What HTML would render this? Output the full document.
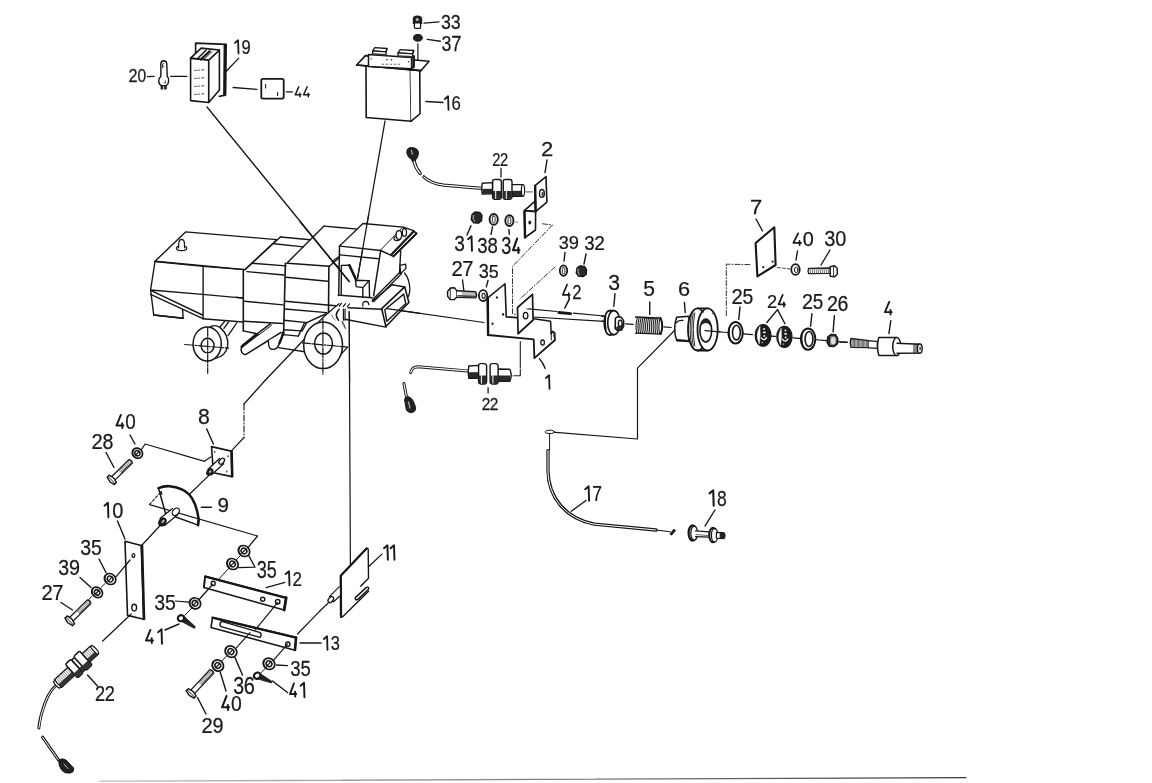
<!DOCTYPE html>
<html><head><meta charset="utf-8"><style>
html,body{margin:0;padding:0;background:#fff;}
svg{display:block;}
text{font-family:"Liberation Sans",sans-serif;fill:#1a1a1a;stroke:#1a1a1a;stroke-width:0.25px;}
.t{opacity:0.999}
</style></head><body>
<svg width="1152" height="783" viewBox="0 0 1152 783" stroke-linecap="round">
<rect width="1152" height="783" fill="#fff"/>
<g opacity="0.999">
<line x1="147.4" y1="76.6" x2="154" y2="76.4" stroke="#161616" stroke-width="1.4"/>
<text transform="translate(128.59,82.2) scale(0.877,1)" font-size="18.57">2</text>
<text transform="translate(137.46,82.2) scale(0.840,1)" font-size="18.57">0</text>
<rect x="160.6" y="84.6" width="6.2" height="4.9" rx="0.6" fill="#222"/>
<line x1="163.7" y1="86" x2="163.7" y2="89.6" stroke="#fff" stroke-width="0.9"/>
<path d="M160.9,76.4 L160.8,64 Q161,60.7 163.8,60.7 Q166.6,60.7 166.8,64 L167.2,76 Q168.8,78 168.6,81 Q168.4,84.6 166,85.4 L161.6,85.6 Q159,84.6 158.7,81.4 Q158.6,78 160.9,76.4 Z" fill="#fff" stroke="#161616" stroke-width="1.4" stroke-linejoin="round" stroke-linecap="round"/>
<path d="M162.2,64.4 L163.6,63.6 M162.2,66.6 L163.8,66.2 M162.4,64.2 L162.6,68" fill="none" stroke="#333" stroke-width="0.9" stroke-linejoin="round" stroke-linecap="round"/>
<path d="M165.2,80.4 L165.6,83.4 M164,82.6 L165.6,82.4" fill="none" stroke="#555" stroke-width="0.8" stroke-linejoin="round" stroke-linecap="round"/>
<line x1="170.6" y1="76.3" x2="186.9" y2="76.3" stroke="#161616" stroke-width="1.3"/>
<path d="M195.6,57 L195.6,43.1 L226.2,44.4 L225.6,95 L219.4,96.4" fill="none" stroke="#161616" stroke-width="1.6" stroke-linejoin="round" stroke-linecap="round"/>
<line x1="224.9" y1="45" x2="224.4" y2="95" stroke="#161616" stroke-width="2.6"/>
<polygon points="190.6,58.1 208.75,60 208.75,102.5 190.6,100.6" fill="#fff" stroke="#161616" stroke-width="1.6" stroke-linejoin="round"/>
<polygon points="208.75,60 219.4,50 219.4,90 208.75,102.5" fill="#fff" stroke="#161616" stroke-width="1.6" stroke-linejoin="round"/>
<polygon points="190.6,58.1 201.25,48.1 219.4,50 208.75,60" fill="#fff" stroke="#161616" stroke-width="1.6" stroke-linejoin="round"/>
<line x1="197.3" y1="58.8" x2="206.2" y2="50" stroke="#161616" stroke-width="1.5"/>
<line x1="200.6" y1="59.6" x2="209.6" y2="51.2" stroke="#161616" stroke-width="2.2"/>
<line x1="203.6" y1="59.6" x2="212.2" y2="51.4" stroke="#161616" stroke-width="1.0"/>
<line x1="194.5" y1="70.5" x2="196.5" y2="70.2" stroke="#444" stroke-width="0.9"/>
<line x1="198" y1="70.3" x2="199.5" y2="70.1" stroke="#444" stroke-width="0.9"/>
<line x1="201.5" y1="70" x2="204" y2="69.7" stroke="#444" stroke-width="0.9"/>
<line x1="194.5" y1="78.5" x2="196.5" y2="78.2" stroke="#444" stroke-width="0.9"/>
<line x1="198" y1="78.3" x2="199.5" y2="78.1" stroke="#444" stroke-width="0.9"/>
<line x1="201.5" y1="78" x2="204" y2="77.7" stroke="#444" stroke-width="0.9"/>
<line x1="194.5" y1="86.5" x2="196.5" y2="86.2" stroke="#444" stroke-width="0.9"/>
<line x1="198" y1="86.3" x2="199.5" y2="86.1" stroke="#444" stroke-width="0.9"/>
<line x1="201.5" y1="86" x2="204" y2="85.7" stroke="#444" stroke-width="0.9"/>
<line x1="194.5" y1="94.5" x2="196.5" y2="94.2" stroke="#444" stroke-width="0.9"/>
<line x1="198" y1="94.3" x2="199.5" y2="94.1" stroke="#444" stroke-width="0.9"/>
<line x1="201.5" y1="94" x2="204" y2="93.7" stroke="#444" stroke-width="0.9"/>
<path d="M234.93,42.89 L238.09,40.27 L238.5,53.48" fill="none" stroke="#1a1a1a" stroke-width="1.79" stroke-linecap="round" stroke-linejoin="round"/>
<text transform="translate(241.56,53.75) scale(0.843,1)" font-size="19.64">9</text>
<line x1="238.75" y1="58.1" x2="226.25" y2="71.25" stroke="#161616" stroke-width="1.3"/>
<line x1="233.1" y1="87.5" x2="256.9" y2="89.4" stroke="#161616" stroke-width="1.3"/>
<rect x="261.3" y="78.8" width="22.4" height="19.8" rx="1.6" fill="#fff" stroke="#161616" stroke-width="1.8"/>
<line x1="265.6" y1="84.5" x2="265.6" y2="88" stroke="#161616" stroke-width="1.1"/>
<line x1="277.6" y1="92.5" x2="277.6" y2="95.5" stroke="#161616" stroke-width="1.1"/>
<line x1="286.25" y1="91.9" x2="292.5" y2="91.9" stroke="#161616" stroke-width="1.3"/>
<path d="M298.78,86.75 L295.25,94.86 L300.89,94.86 M299.78,93.13 L299.92,96.75" fill="none" stroke="#1a1a1a" stroke-width="1.50" stroke-linecap="round" stroke-linejoin="round"/>
<path d="M307.15,86.75 L303.61,94.86 L309.25,94.86 M308.14,93.13 L308.29,96.75" fill="none" stroke="#1a1a1a" stroke-width="1.50" stroke-linecap="round" stroke-linejoin="round"/>
<line x1="207" y1="107" x2="349.2" y2="281.5" stroke="#161616" stroke-width="1.3"/>
<path d="M413.4,23.4 L413.4,19.2 Q413.4,16.2 417.4,16.2 Q421.6,16.2 421.6,19.2 L421.6,23.4 Z" fill="#222" stroke="#161616" stroke-width="1.2" stroke-linejoin="round" stroke-linecap="round"/>
<ellipse cx="417.2" cy="19.5" rx="1.5" ry="1.6" fill="#bbb"/>
<path d="M414.4,23.4 L414.4,27.2 Q414.4,28.4 416,28.4 L419.2,28.4 Q420.6,28.4 420.6,27.2 L420.6,23.4" fill="#fff" stroke="#161616" stroke-width="1.3" stroke-linejoin="round" stroke-linecap="round"/>
<line x1="424" y1="23.1" x2="439" y2="21.9" stroke="#161616" stroke-width="1.3"/>
<text transform="translate(440.89,29.4) scale(0.864,1)" font-size="20.57">3</text>
<text transform="translate(450.68,29.4) scale(0.864,1)" font-size="20.57">3</text>
<ellipse cx="417.9" cy="37.8" rx="4.4" ry="3.4" fill="#222" stroke="#161616" stroke-width="1"/>
<line x1="427.25" y1="39.4" x2="440.4" y2="41.25" stroke="#161616" stroke-width="1.3"/>
<text transform="translate(441.54,50.6) scale(0.830,1)" font-size="21.43">3</text>
<text transform="translate(451.13,50.6) scale(0.857,1)" font-size="21.43">7</text>
<line x1="417.9" y1="43.75" x2="417.9" y2="65" stroke="#161616" stroke-width="1.2"/>
<polyline points="366,66.3 366.2,117.5 411.2,121.2 410.4,70" fill="#fff" stroke="#161616" stroke-width="1.6" stroke-linejoin="round"/>
<polyline points="410.4,70 419.75,67.6 420,113.75 411.2,121.2" fill="#fff" stroke="#161616" stroke-width="1.6" stroke-linejoin="round"/>
<polygon points="356.6,65 365.4,55.6 429.1,61.25 421,70.6" fill="#fff" stroke="#161616" stroke-width="1.6" stroke-linejoin="round"/>
<line x1="356.6" y1="65" x2="421" y2="70.6" stroke="#161616" stroke-width="1.6"/>
<polygon points="368.5,54.6 411.6,57.4 411.6,68.8 368.5,66.4" fill="#fff" stroke="#161616" stroke-width="1.5" stroke-linejoin="round"/>
<polygon points="411.6,57.4 414.2,55.8 414.2,66.6 411.6,68.8" fill="#fff" stroke="#161616" stroke-width="1.3" stroke-linejoin="round"/>
<line x1="413.4" y1="56.6" x2="413.4" y2="67.4" stroke="#161616" stroke-width="2.2"/>
<ellipse cx="371.2" cy="58.8" rx="0.6" ry="0.7" fill="#333"/>
<ellipse cx="408.6" cy="61.8" rx="0.7" ry="0.8" fill="#333"/>
<polygon points="372.6,50.8 374.8,47.6 387.2,48.5 386,51.8" fill="#fff" stroke="#161616" stroke-width="1.3" stroke-linejoin="round"/>
<polygon points="372.6,50.8 386,51.8 386,55.2 372.6,54.4" fill="#fff" stroke="#161616" stroke-width="1.3" stroke-linejoin="round"/>
<line x1="373" y1="54" x2="385.6" y2="54.9" stroke="#333" stroke-width="1.6"/>
<line x1="386" y1="51.8" x2="387.2" y2="48.5" stroke="#161616" stroke-width="1.2"/>
<polygon points="398,52.8 400.2,49.6 413.8,50.5 412.6,53.8" fill="#fff" stroke="#161616" stroke-width="1.3" stroke-linejoin="round"/>
<polygon points="398,52.8 412.6,53.8 412.6,57.2 398,56.4" fill="#fff" stroke="#161616" stroke-width="1.3" stroke-linejoin="round"/>
<line x1="398.4" y1="56" x2="412.2" y2="56.9" stroke="#333" stroke-width="1.6"/>
<line x1="412.6" y1="53.8" x2="413.8" y2="50.5" stroke="#161616" stroke-width="1.2"/>
<ellipse cx="387" cy="59.6" rx="0.8" ry="0.9" fill="#333"/>
<ellipse cx="391.5" cy="59.8" rx="0.8" ry="0.9" fill="#333"/>
<line x1="382" y1="64.2" x2="383.5" y2="64.3" stroke="#555" stroke-width="0.9"/>
<line x1="386" y1="64.2" x2="387.5" y2="64.3" stroke="#555" stroke-width="0.9"/>
<line x1="390" y1="64.2" x2="391.5" y2="64.3" stroke="#555" stroke-width="0.9"/>
<line x1="394" y1="64.2" x2="395.5" y2="64.3" stroke="#555" stroke-width="0.9"/>
<line x1="398" y1="64.2" x2="399.5" y2="64.3" stroke="#555" stroke-width="0.9"/>
<line x1="426" y1="101.5" x2="443" y2="102.5" stroke="#161616" stroke-width="1.3"/>
<path d="M444.85,98.94 L448.07,96.28 L448.49,109.72" fill="none" stroke="#1a1a1a" stroke-width="1.82" stroke-linecap="round" stroke-linejoin="round"/>
<text transform="translate(451.46,110) scale(0.837,1)" font-size="20.00">6</text>
<line x1="385" y1="121" x2="357.6" y2="278" stroke="#161616" stroke-width="1.3"/>
<path d="M407,153 Q406,147.5 411.5,147.6 Q418.5,147.8 418.5,153.5 Q418,158 415.5,160 L414.8,162 L412.6,162 L411.5,159.5 Q407.5,157.5 407,153 Z" fill="#222" stroke="#161616" stroke-width="1.0" stroke-linejoin="round" stroke-linecap="round"/>
<line x1="411.5" y1="150.5" x2="412.3" y2="154" stroke="#ccc" stroke-width="1.1"/>
<path d="M414.2,161.5 Q415.5,168 420.2,173.4" fill="none" stroke="#161616" stroke-width="3.4" stroke-linejoin="round" stroke-linecap="round"/>
<path d="M414.2,161.5 Q415.5,168 420.2,173.4" fill="none" stroke="#fff" stroke-width="1.3" stroke-linejoin="round" stroke-linecap="round"/>
<path d="M423.8,176.8 Q430,183 443.8,185.2 L481.5,188.4" fill="none" stroke="#161616" stroke-width="3.2" stroke-linejoin="round" stroke-linecap="round"/>
<path d="M423.8,176.8 Q430,183 443.8,185.2 L481.5,188.4" fill="none" stroke="#fff" stroke-width="1.2" stroke-linejoin="round" stroke-linecap="round"/>
<path d="M482.2,183.2 L492.5,182.6 L492.5,193.8 L482.2,194 Q481.2,188.6 482.2,183.2 Z" fill="#fff" stroke="#161616" stroke-width="1.4" stroke-linejoin="round" stroke-linecap="round"/>
<rect x="482.3" y="188.8" width="10" height="5" fill="#2a2a2a"/>
<path d="M508.7,184.6 L522.6,184.6 Q525,190.3 522.6,196.2 L508.7,196.2 Z" fill="#fff" stroke="#161616" stroke-width="1.4" stroke-linejoin="round" stroke-linecap="round"/>
<rect x="509" y="190.8" width="13.5" height="5.2" fill="#2a2a2a"/>
<ellipse cx="523" cy="190.4" rx="1.6" ry="5.8" fill="#fff" stroke="#161616" stroke-width="1.2"/>
<path d="M492.7,181 Q492.5,179.5 494.9,179.5 L499.4,179.5 Q501.4,179.7 501.4,182 L501.4,197.5 Q501.2,199.3 499.2,199.3 L494.9,199.3 Q492.59999999999997,199 492.59999999999997,197 Z" fill="#fff" stroke="#161616" stroke-width="1.4" stroke-linejoin="round" stroke-linecap="round"/>
<rect x="492.9" y="191" width="8.3" height="7.8" fill="#2a2a2a"/>
<line x1="495.7" y1="180.5" x2="495.7" y2="198.5" stroke="#fff" stroke-width="1.0"/>
<path d="M503.3,181 Q503.1,179.5 505.5,179.5 L510.0,179.5 Q512.0,179.7 512.0,182 L512.0,197.5 Q511.8,199.3 509.8,199.3 L505.5,199.3 Q503.2,199 503.2,197 Z" fill="#fff" stroke="#161616" stroke-width="1.4" stroke-linejoin="round" stroke-linecap="round"/>
<rect x="503.5" y="191" width="8.3" height="7.8" fill="#2a2a2a"/>
<line x1="506.3" y1="180.5" x2="506.3" y2="198.5" stroke="#fff" stroke-width="1.0"/>
<line x1="526" y1="191.9" x2="532.5" y2="191.9" stroke="#555" stroke-width="1.0"/>
<text transform="translate(492.27,166.25) scale(0.821,1)" font-size="17.86">2</text>
<text transform="translate(500.09,166.25) scale(0.821,1)" font-size="17.86">2</text>
<line x1="501" y1="168.75" x2="501" y2="176.9" stroke="#161616" stroke-width="1.3"/>
<polygon points="524.4,210.6 535.6,200.6 535.6,211.6" fill="#fff" stroke="#161616" stroke-width="1.5" stroke-linejoin="round"/>
<polygon points="535,185.6 546,176.6 546.9,202.2 535.6,211.6" fill="#fff" stroke="#161616" stroke-width="1.6" stroke-linejoin="round"/>
<line x1="535.2" y1="186" x2="535.6" y2="211.6" stroke="#161616" stroke-width="2.4"/>
<ellipse cx="541.9" cy="193.4" rx="2.4" ry="3.9" fill="none" stroke="#161616" stroke-width="1.4"/>
<ellipse cx="542.6" cy="194" rx="1.1" ry="2.2" fill="#444"/>
<polygon points="524.4,210.6 535.6,211.6 535.5,230 525,237.5 524.4,210.6" fill="#fff" stroke="#161616" stroke-width="1.6" stroke-linejoin="round"/>
<line x1="524.5" y1="212" x2="525" y2="237.5" stroke="#161616" stroke-width="2.4"/>
<ellipse cx="529.8" cy="222.6" rx="1.5" ry="2" fill="#222"/>
<text transform="translate(540.9,156) scale(1.140,1)" font-size="19.29">2</text>
<line x1="547" y1="160" x2="545" y2="172.5" stroke="#161616" stroke-width="1.4"/>
<polygon points="472,214.5 475,212 479.8,212.4 482,215.5 481.6,220.8 478.4,223.2 473.8,222.8 471.2,219.5" fill="#2a2a2a" stroke="#161616" stroke-width="1.3" stroke-linejoin="round"/>
<path d="M473.2,215.4 Q472.2,219 474.6,221.4" fill="none" stroke="#bbb" stroke-width="1.0" stroke-linejoin="round" stroke-linecap="round"/>
<ellipse cx="493.7" cy="219.4" rx="4.1" ry="5.4" fill="#fff" stroke="#161616" stroke-width="1.9"/>
<rect x="492.3" y="216.1" width="2.8" height="6.6" rx="1" fill="none" stroke="#333" stroke-width="1"/>
<ellipse cx="509.4" cy="220.6" rx="4.1" ry="5.4" fill="#fff" stroke="#161616" stroke-width="1.9"/>
<rect x="508" y="217.3" width="2.8" height="6.6" rx="1" fill="none" stroke="#333" stroke-width="1"/>
<line x1="516" y1="222" x2="517.5" y2="222.2" stroke="#777" stroke-width="1.0"/>
<text transform="translate(454.24,251) scale(0.892,1)" font-size="21.43">3</text>
<path d="M468.07,239.15 L471.52,236.3 L471.97,250.7" fill="none" stroke="#1a1a1a" stroke-width="1.95" stroke-linecap="round" stroke-linejoin="round"/>
<text transform="translate(477.26,253) scale(0.840,1)" font-size="22.14">3</text>
<text transform="translate(487.42,253) scale(0.840,1)" font-size="22.14">8</text>
<text transform="translate(501.28,254) scale(0.769,1)" font-size="23.57">3</text>
<path d="M517.09,238.57 L513.06,250.21 L519.43,250.21 M518.29,247.73 L518.46,252.93" fill="none" stroke="#1a1a1a" stroke-width="2.15" stroke-linecap="round" stroke-linejoin="round"/>
<line x1="471" y1="225.8" x2="467" y2="235" stroke="#161616" stroke-width="1.4"/>
<line x1="492.5" y1="226.6" x2="491" y2="234.4" stroke="#161616" stroke-width="1.4"/>
<line x1="508.9" y1="229.5" x2="509.3" y2="234.2" stroke="#161616" stroke-width="1.4"/>
<polyline points="542.5,223.8 552.5,225 512.5,266.3 512.5,313.8 516.3,314.4" fill="none" stroke="#333" stroke-width="1.0" stroke-linejoin="round" stroke-dasharray="5,2,1,2"/>
<ellipse cx="563.5" cy="270.6" rx="3.7" ry="5.2" fill="#fff" stroke="#161616" stroke-width="1.8"/>
<rect x="562.3" y="267.6" width="2.6" height="6" rx="1" fill="none" stroke="#333" stroke-width="1"/>
<polygon points="577,268 580,265.8 584.5,266.3 586.6,269.5 586.2,274.5 583,276.6 578.5,276.2 576.2,273" fill="#2a2a2a" stroke="#161616" stroke-width="1.3" stroke-linejoin="round"/>
<path d="M578,269 Q577.2,272 579.2,274.8" fill="none" stroke="#bbb" stroke-width="1.0" stroke-linejoin="round" stroke-linecap="round"/>
<text transform="translate(558.78,249) scale(0.976,1)" font-size="18.57">3</text>
<text transform="translate(568.66,249) scale(0.986,1)" font-size="18.57">9</text>
<text transform="translate(584.26,250) scale(0.930,1)" font-size="20.00">3</text>
<text transform="translate(594.29,250) scale(0.961,1)" font-size="20.00">2</text>
<line x1="565" y1="252.5" x2="564" y2="261" stroke="#161616" stroke-width="1.4"/>
<line x1="586" y1="254" x2="584" y2="264" stroke="#161616" stroke-width="1.4"/>
<polyline points="555,267 520,299" fill="none" stroke="#333" stroke-width="1.0" stroke-linejoin="round" stroke-dasharray="5,2,1,2"/>
<polygon points="447.6,291.5 450.4,288 454.6,287.8 457,291 457,297 454.4,299.6 450.2,299.6 447.6,296.2" fill="#fff" stroke="#161616" stroke-width="1.4" stroke-linejoin="round"/>
<line x1="450.3" y1="288.4" x2="450.2" y2="299.2" stroke="#161616" stroke-width="0.9"/>
<path d="M457,290.8 L475.6,291.8 Q477.6,294.8 475.6,297.9 L457,297.4" fill="#fff" stroke="#161616" stroke-width="1.4" stroke-linejoin="round" stroke-linecap="round"/>
<line x1="463" y1="292" x2="463" y2="297.2" stroke="#555" stroke-width="0.8"/>
<line x1="465" y1="292" x2="465" y2="297.2" stroke="#555" stroke-width="0.8"/>
<line x1="467" y1="292" x2="467" y2="297.2" stroke="#555" stroke-width="0.8"/>
<line x1="469" y1="292" x2="469" y2="297.2" stroke="#555" stroke-width="0.8"/>
<line x1="471" y1="292" x2="471" y2="297.2" stroke="#555" stroke-width="0.8"/>
<line x1="473" y1="292" x2="473" y2="297.2" stroke="#555" stroke-width="0.8"/>
<line x1="475" y1="292" x2="475" y2="297.2" stroke="#555" stroke-width="0.8"/>
<line x1="458" y1="295.8" x2="475" y2="296.6" stroke="#444" stroke-width="1.6"/>
<ellipse cx="483.1" cy="295.6" rx="4.2" ry="5.5" fill="#fff" stroke="#161616" stroke-width="1.8"/>
<ellipse cx="483.6" cy="295.8" rx="1.6" ry="2.6" fill="none" stroke="#161616" stroke-width="1.1"/>
<text transform="translate(451.49,276) scale(0.944,1)" font-size="21.43">2</text>
<text transform="translate(462.28,276) scale(0.944,1)" font-size="21.43">7</text>
<text transform="translate(478.78,277.5) scale(0.939,1)" font-size="19.29">3</text>
<text transform="translate(488.77,277.5) scale(0.930,1)" font-size="19.29">5</text>
<line x1="462.5" y1="280" x2="463.75" y2="290" stroke="#161616" stroke-width="1.4"/>
<line x1="488" y1="280.5" x2="486.3" y2="286.9" stroke="#161616" stroke-width="1.4"/>
<polyline points="487.5,298.1 505,283.75 506.25,316.9 517,317.6" fill="none" stroke="#161616" stroke-width="1.6" stroke-linejoin="round"/>
<polyline points="487.5,298.1 488.1,335 533.75,339.4 534.4,358.1 555,340 554.6,333 552.5,331.5 551.2,333.5" fill="none" stroke="#161616" stroke-width="1.8" stroke-linejoin="round"/>
<line x1="487.8" y1="298.5" x2="488.1" y2="335" stroke="#161616" stroke-width="2.4"/>
<polyline points="533.9,318.8 550.6,321.25 551.2,333.5" fill="none" stroke="#161616" stroke-width="1.5" stroke-linejoin="round"/>
<line x1="551.2" y1="333.5" x2="551.3" y2="340" stroke="#161616" stroke-width="1.0"/>
<ellipse cx="496.9" cy="297.5" rx="1.1" ry="1.3" fill="#222"/>
<ellipse cx="503.1" cy="314.4" rx="1.1" ry="1.3" fill="#222"/>
<ellipse cx="492.5" cy="323.75" rx="1.1" ry="1.3" fill="#222"/>
<ellipse cx="542.6" cy="342.6" rx="1.8" ry="2.6" fill="none" stroke="#161616" stroke-width="1.3"/>
<ellipse cx="554" cy="335.5" rx="0.8" ry="1.6" fill="#333"/>
<polygon points="517.5,307.5 532.5,294.4 533.1,320 518.1,333.75" fill="#fff" stroke="#161616" stroke-width="1.7" stroke-linejoin="round"/>
<ellipse cx="525.6" cy="315.6" rx="2.3" ry="3.3" fill="none" stroke="#161616" stroke-width="1.3"/>
<line x1="526.5" y1="309" x2="528.5" y2="309.3" stroke="#555" stroke-width="1.0"/>
<line x1="529" y1="308.9" x2="556.6" y2="311.5" stroke="#161616" stroke-width="1.2"/>
<line x1="573.2" y1="313.1" x2="604" y2="316" stroke="#161616" stroke-width="1.2"/>
<line x1="533.5" y1="317" x2="604" y2="321.3" stroke="#161616" stroke-width="1.2"/>
<line x1="558.75" y1="312.5" x2="570.6" y2="313.6" stroke="#161616" stroke-width="2.8"/>
<text transform="translate(572.16,298.75) scale(0.815,1)" font-size="20.50">2</text>
<path d="M567.1,284.6 L562.8,294.9 L569.8,294.9 M568.7,293 L569.2,299.4 L564.8,308" fill="none" stroke="#161616" stroke-width="1.6" stroke-linejoin="round" stroke-linecap="round"/>
<line x1="387" y1="308.7" x2="484" y2="322.5" stroke="#161616" stroke-width="1.2"/>
<polyline points="520.3,341.6 520.3,375.8 514,375.8" fill="none" stroke="#222" stroke-width="1.1" stroke-linejoin="round" stroke-dasharray="26,1.5,40"/>
<line x1="511.2" y1="375.8" x2="512.4" y2="375.8" stroke="#555" stroke-width="1.0"/>
<path d="M539.4,358.75 Q543,362.5 545.2,368.5" fill="none" stroke="#161616" stroke-width="1.3" stroke-linejoin="round" stroke-linecap="round"/>
<path d="M545.87,377.94 L549.09,375.28 L549.51,388.72" fill="none" stroke="#1a1a1a" stroke-width="1.82" stroke-linecap="round" stroke-linejoin="round"/>
<path d="M410.7,372.5 Q412,367 418,366.8 L467.5,370.9" fill="none" stroke="#161616" stroke-width="3.0" stroke-linejoin="round" stroke-linecap="round"/>
<path d="M410.7,372.5 Q412,367 418,366.8 L467.5,370.9" fill="none" stroke="#fff" stroke-width="1.1" stroke-linejoin="round" stroke-linecap="round"/>
<path d="M403.9,383.5 L406.5,397" fill="none" stroke="#161616" stroke-width="3.0" stroke-linejoin="round" stroke-linecap="round"/>
<path d="M403.9,383.5 L406.5,397" fill="none" stroke="#fff" stroke-width="1.1" stroke-linejoin="round" stroke-linecap="round"/>
<path d="M404.6,399.5 Q405,396.5 408,396.6 Q413,397.5 415.6,407.5 Q416,411.5 412.5,412.6 Q408.5,413 406.6,410.5 Z" fill="#222" stroke="#161616" stroke-width="1.0" stroke-linejoin="round" stroke-linecap="round"/>
<line x1="408.5" y1="402" x2="410" y2="408" stroke="#bbb" stroke-width="1.1"/>
<path d="M468.8,366 L478.7,365.4 L478.7,378.3 L468.8,378.3 Q467.6,372 468.8,366 Z" fill="#fff" stroke="#161616" stroke-width="1.4" stroke-linejoin="round" stroke-linecap="round"/>
<rect x="469" y="372.2" width="9.5" height="6" fill="#2a2a2a"/>
<path d="M497.6,369 L509.8,369.2 Q512.6,375 509.8,381.4 L497.6,381.2 Z" fill="#fff" stroke="#161616" stroke-width="1.4" stroke-linejoin="round" stroke-linecap="round"/>
<rect x="498" y="375.5" width="12" height="5.6" fill="#2a2a2a"/>
<path d="M478.59999999999997,365.6 Q478.59999999999997,363.6 480.79999999999995,363.6 L484.4,363.6 Q486.59999999999997,363.8 486.59999999999997,366 L486.59999999999997,381.8 Q486.4,384 484.4,384 L480.79999999999995,384 Q478.59999999999997,383.8 478.59999999999997,381.6 Z" fill="#fff" stroke="#161616" stroke-width="1.4" stroke-linejoin="round" stroke-linecap="round"/>
<rect x="478.79999999999995" y="375.5" width="7.6" height="8.2" fill="#2a2a2a"/>
<line x1="481.4" y1="364.5" x2="481.4" y2="383" stroke="#fff" stroke-width="1.0"/>
<path d="M490.09999999999997,365.6 Q490.09999999999997,363.6 492.29999999999995,363.6 L495.9,363.6 Q498.09999999999997,363.8 498.09999999999997,366 L498.09999999999997,381.8 Q497.9,384 495.9,384 L492.29999999999995,384 Q490.09999999999997,383.8 490.09999999999997,381.6 Z" fill="#fff" stroke="#161616" stroke-width="1.4" stroke-linejoin="round" stroke-linecap="round"/>
<rect x="490.29999999999995" y="375.5" width="7.6" height="8.2" fill="#2a2a2a"/>
<line x1="492.9" y1="364.5" x2="492.9" y2="383" stroke="#fff" stroke-width="1.0"/>
<text transform="translate(481.63,409.7) scale(0.890,1)" font-size="17.29">2</text>
<text transform="translate(489.83,409.7) scale(0.890,1)" font-size="17.29">2</text>
<line x1="488.1" y1="387.7" x2="488.1" y2="393" stroke="#161616" stroke-width="1.3"/>
<line x1="604" y1="316" x2="601.9" y2="316.2" stroke="#161616" stroke-width="1.2"/>
<ellipse cx="609.6" cy="322.8" rx="5.4" ry="12.2" fill="#fff" stroke="#161616" stroke-width="1.6"/>
<path d="M609.6,310.6 L613.8,310.6 M609.6,335 L613.8,334.8" fill="none" stroke="#161616" stroke-width="1.5" stroke-linejoin="round" stroke-linecap="round"/>
<path d="M605.6,316 Q604.8,322.8 606,330" fill="none" stroke="#161616" stroke-width="1.3" stroke-linejoin="round" stroke-linecap="round"/>
<ellipse cx="613.9" cy="322.7" rx="6.2" ry="12.1" fill="#fff" stroke="#161616" stroke-width="1.6"/>
<polygon points="615.4,318.2 617.6,316.8 621.4,317.4 623.6,320.6 623.6,326.4 621.4,330 617.6,330.6 615.2,328.6" fill="#fff" stroke="#161616" stroke-width="1.6" stroke-linejoin="round"/>
<path d="M616,328.6 L617.8,330.4 L621.4,330 L623.4,326.6 L623.4,323.4 Q621,327.4 617.4,326.8 Z" fill="#333" stroke="#161616" stroke-width="0.8" stroke-linejoin="round" stroke-linecap="round"/>
<ellipse cx="620.2" cy="323.4" rx="1.9" ry="3.1" fill="#fff" stroke="#161616" stroke-width="1.4"/>
<line x1="602" y1="316.2" x2="604.4" y2="316.4" stroke="#161616" stroke-width="1.2"/>
<line x1="602" y1="321.2" x2="604.4" y2="321.4" stroke="#161616" stroke-width="1.2"/>
<text transform="translate(608.15,290) scale(0.993,1)" font-size="21.43">3</text>
<line x1="615" y1="293.8" x2="613.8" y2="306.2" stroke="#161616" stroke-width="1.4"/>
<line x1="625.6" y1="323.8" x2="633.1" y2="324.4" stroke="#161616" stroke-width="1.2"/>
<path d="M635.5,317 L661,318.2 Q664,326 661,334.2 L635.5,333.2" fill="#fff" stroke="#161616" stroke-width="1.3" stroke-linejoin="round" stroke-linecap="round"/>
<path d="M637.4,317.4 Q635.0,325.5 636.8000000000001,333.4" fill="none" stroke="#222" stroke-width="1.1" stroke-linejoin="round" stroke-linecap="round"/>
<path d="M639.3,317.4 Q636.9,325.5 638.7,333.4" fill="none" stroke="#222" stroke-width="1.1" stroke-linejoin="round" stroke-linecap="round"/>
<path d="M641.1999999999999,317.4 Q638.8,325.5 640.6,333.4" fill="none" stroke="#222" stroke-width="1.1" stroke-linejoin="round" stroke-linecap="round"/>
<path d="M643.1,317.4 Q640.7,325.5 642.5000000000001,333.4" fill="none" stroke="#222" stroke-width="1.1" stroke-linejoin="round" stroke-linecap="round"/>
<path d="M645.0,317.4 Q642.6,325.5 644.4000000000001,333.4" fill="none" stroke="#222" stroke-width="1.1" stroke-linejoin="round" stroke-linecap="round"/>
<path d="M646.9,317.4 Q644.5,325.5 646.3000000000001,333.4" fill="none" stroke="#222" stroke-width="1.1" stroke-linejoin="round" stroke-linecap="round"/>
<path d="M648.8,317.4 Q646.4,325.5 648.2,333.4" fill="none" stroke="#222" stroke-width="1.1" stroke-linejoin="round" stroke-linecap="round"/>
<path d="M650.6999999999999,317.4 Q648.3,325.5 650.1,333.4" fill="none" stroke="#222" stroke-width="1.1" stroke-linejoin="round" stroke-linecap="round"/>
<path d="M652.6,317.4 Q650.2,325.5 652.0000000000001,333.4" fill="none" stroke="#222" stroke-width="1.1" stroke-linejoin="round" stroke-linecap="round"/>
<path d="M654.5,317.4 Q652.1,325.5 653.9000000000001,333.4" fill="none" stroke="#222" stroke-width="1.1" stroke-linejoin="round" stroke-linecap="round"/>
<path d="M656.4,317.4 Q654.0,325.5 655.8000000000001,333.4" fill="none" stroke="#222" stroke-width="1.1" stroke-linejoin="round" stroke-linecap="round"/>
<path d="M658.3,317.4 Q655.9,325.5 657.7,333.4" fill="none" stroke="#222" stroke-width="1.1" stroke-linejoin="round" stroke-linecap="round"/>
<path d="M660.1999999999999,317.4 Q657.8,325.5 659.6,333.4" fill="none" stroke="#222" stroke-width="1.1" stroke-linejoin="round" stroke-linecap="round"/>
<path d="M660.6,318.4 Q663.6,326 660.6,334" fill="none" stroke="#161616" stroke-width="1.6" stroke-linejoin="round" stroke-linecap="round"/>
<line x1="643" y1="318" x2="657" y2="318.9" stroke="#161616" stroke-width="0.8"/>
<line x1="663.75" y1="326.9" x2="671.25" y2="327.5" stroke="#161616" stroke-width="1.2"/>
<text transform="translate(643.16,296) scale(0.982,1)" font-size="21.43">5</text>
<line x1="649.75" y1="301.9" x2="649.75" y2="314.4" stroke="#161616" stroke-width="1.4"/>
<path d="M676.6,317.2 L689,316.2 L689.2,341 L676.8,340.8 Q672.6,329 676.6,317.2 Z" fill="#fff" stroke="#161616" stroke-width="1.5" stroke-linejoin="round" stroke-linecap="round"/>
<line x1="677" y1="340" x2="688.6" y2="341.2" stroke="#161616" stroke-width="2.2"/>
<path d="M676.2,323 Q678,320 683,320.4" fill="none" stroke="#161616" stroke-width="1.2" stroke-linejoin="round" stroke-linecap="round"/>
<path d="M697.5,308.2 L707.5,308.2 L707.5,350.6 L697.5,350.6 Z" fill="#fff" stroke-linejoin="round" stroke-linecap="round"/>
<ellipse cx="697.6" cy="329.4" rx="9.6" ry="21.1" fill="#fff" stroke="#161616" stroke-width="1.8"/>
<line x1="697.6" y1="308.3" x2="707.5" y2="308.3" stroke="#161616" stroke-width="1.5"/>
<line x1="697.6" y1="350.5" x2="707.5" y2="350.5" stroke="#161616" stroke-width="2.2"/>
<ellipse cx="707.6" cy="329.4" rx="10.1" ry="21.1" fill="#fff" stroke="#161616" stroke-width="1.8"/>
<path d="M691.6,313 Q688.6,329.4 691.6,346" fill="none" stroke="#161616" stroke-width="0.9" stroke-linejoin="round" stroke-linecap="round"/>
<path d="M693.2,313 Q690.2,329.4 693.2,346" fill="none" stroke="#161616" stroke-width="0.9" stroke-linejoin="round" stroke-linecap="round"/>
<path d="M694.8,313 Q691.8,329.4 694.8,346" fill="none" stroke="#161616" stroke-width="0.9" stroke-linejoin="round" stroke-linecap="round"/>
<ellipse cx="705.8" cy="330.6" rx="5.9" ry="11.5" fill="#fff" stroke="#161616" stroke-width="1.6"/>
<path d="M700.2,327 Q701,319.5 705.8,319.2 Q710.8,319.5 711.4,327 Q708,322.5 705.5,323 Q702,323.5 700.2,327 Z" fill="#222" stroke-linejoin="round" stroke-linecap="round"/>
<ellipse cx="703.3" cy="312" rx="0.8" ry="0.8" fill="#333"/>
<ellipse cx="712.7" cy="313.5" rx="0.7" ry="0.7" fill="#444"/>
<line x1="705" y1="330.6" x2="727.5" y2="332.5" stroke="#161616" stroke-width="1.2"/>
<text transform="translate(677.91,296) scale(1.127,1)" font-size="19.29">6</text>
<line x1="684.4" y1="302.5" x2="685.25" y2="312.5" stroke="#161616" stroke-width="1.4"/>
<polyline points="675,330 637.5,368.1 637.5,439 552.5,432.2" fill="none" stroke="#161616" stroke-width="1.2" stroke-linejoin="round"/>
<ellipse cx="549.7" cy="431.9" rx="4.6" ry="1.7" fill="#fff" stroke="#161616" stroke-width="1.0"/>
<line x1="549.6" y1="433.6" x2="549.6" y2="450" stroke="#161616" stroke-width="1.0"/>
<polyline points="726.3,315.6 726.3,264.2 751,264.6" fill="none" stroke="#333" stroke-width="1.0" stroke-linejoin="round" stroke-dasharray="5,2,1,2"/>
<polygon points="755.6,243 774.3,227.3 775.6,265 757.4,276.4" fill="#fff" stroke="#161616" stroke-width="2.1" stroke-linejoin="round"/>
<ellipse cx="763.3" cy="267.2" rx="1.1" ry="1.1" fill="#222"/>
<ellipse cx="772.6" cy="261.6" rx="1.1" ry="1.1" fill="#222"/>
<line x1="777.5" y1="267.5" x2="790" y2="269" stroke="#444" stroke-width="1.0" stroke-dasharray="3,2"/>
<text transform="translate(749.9,214) scale(1.099,1)" font-size="20.00">7</text>
<line x1="756" y1="219" x2="762.5" y2="231" stroke="#161616" stroke-width="1.4"/>
<ellipse cx="795.5" cy="269.5" rx="4.2" ry="5.4" fill="#fff" stroke="#161616" stroke-width="1.8"/>
<ellipse cx="796.2" cy="269.8" rx="1.8" ry="2.8" fill="none" stroke="#161616" stroke-width="1.0"/>
<path d="M798.16,233.38 L793.38,242.9 L801.06,242.9 M799.48,240.87 L799.67,245.12" fill="none" stroke="#1a1a1a" stroke-width="1.76" stroke-linecap="round" stroke-linejoin="round"/>
<text transform="translate(802.77,246) scale(1.030,1)" font-size="19.29">0</text>
<line x1="797.5" y1="251" x2="796" y2="260" stroke="#161616" stroke-width="1.4"/>
<path d="M808.6,268.4 L830.4,268 L830.4,273.4 L808.6,273.6 Q807.4,271 808.6,268.4 Z" fill="#fff" stroke="#161616" stroke-width="1.3" stroke-linejoin="round" stroke-linecap="round"/>
<line x1="810" y1="268.6" x2="810.6" y2="273.2" stroke="#555" stroke-width="0.8"/>
<line x1="812" y1="268.6" x2="812.6" y2="273.2" stroke="#555" stroke-width="0.8"/>
<line x1="814" y1="268.6" x2="814.6" y2="273.2" stroke="#555" stroke-width="0.8"/>
<line x1="816" y1="268.6" x2="816.6" y2="273.2" stroke="#555" stroke-width="0.8"/>
<line x1="818" y1="268.6" x2="818.6" y2="273.2" stroke="#555" stroke-width="0.8"/>
<line x1="820" y1="268.6" x2="820.6" y2="273.2" stroke="#555" stroke-width="0.8"/>
<line x1="822" y1="268.6" x2="822.6" y2="273.2" stroke="#555" stroke-width="0.8"/>
<line x1="824" y1="268.6" x2="824.6" y2="273.2" stroke="#555" stroke-width="0.8"/>
<line x1="826" y1="268.6" x2="826.6" y2="273.2" stroke="#555" stroke-width="0.8"/>
<line x1="828" y1="268.6" x2="828.6" y2="273.2" stroke="#555" stroke-width="0.8"/>
<polygon points="830.2,266.6 834.6,265.8 837.2,268.2 837.2,274.4 834.6,276.8 830.2,276.2" fill="#fff" stroke="#161616" stroke-width="1.4" stroke-linejoin="round"/>
<line x1="833.6" y1="266.2" x2="833.6" y2="276.4" stroke="#161616" stroke-width="0.9"/>
<text transform="translate(824.2,246) scale(0.937,1)" font-size="21.43">3</text>
<text transform="translate(835.27,246) scale(0.927,1)" font-size="21.43">0</text>
<line x1="830" y1="250" x2="821" y2="265" stroke="#161616" stroke-width="1.4"/>
<line x1="715" y1="331.49" x2="720" y2="331.9" stroke="#161616" stroke-width="1.2"/>
<line x1="743.5" y1="333.83" x2="752.5" y2="334.56" stroke="#161616" stroke-width="1.2"/>
<line x1="771" y1="336.08" x2="775.5" y2="336.45" stroke="#161616" stroke-width="1.2"/>
<line x1="793" y1="337.89" x2="799.5" y2="338.42" stroke="#161616" stroke-width="1.2"/>
<line x1="816" y1="339.77" x2="826.5" y2="340.63" stroke="#161616" stroke-width="1.2"/>
<line x1="837.5" y1="341.53" x2="847.2" y2="342.33" stroke="#161616" stroke-width="1.2"/>
<ellipse cx="735.6" cy="332.8" rx="7.2" ry="10.7" fill="#fff" stroke="#161616" stroke-width="2.0"/>
<ellipse cx="736.4" cy="332.6" rx="3.9" ry="7.3" fill="#fff" stroke="#161616" stroke-width="1.6"/>
<path d="M729.6,326 Q728.4,333 730.2,339.8" fill="none" stroke="#161616" stroke-width="1.2" stroke-linejoin="round" stroke-linecap="round"/>
<ellipse cx="763.1" cy="335.4" rx="7.9" ry="10.8" fill="#1e1e1e" stroke="#161616" stroke-width="1.2"/>
<path d="M759.90,326.60 Q755.00,335.40 759.30,343.80 Q760.70,335.40 759.90,326.60 Z" fill="#fff" stroke="#fff" stroke-width="0.5" stroke-linejoin="round" stroke-linecap="round"/>
<path d="M761.30,337.80 Q763.90,341.60 766.50,337.60" fill="none" stroke="#fff" stroke-width="1.3" stroke-linejoin="round" stroke-linecap="round"/>
<ellipse cx="764.1" cy="329" rx="0.9" ry="0.9" fill="#fff"/>
<ellipse cx="764.3" cy="332.4" rx="1.6" ry="0.8" fill="#fff"/>
<ellipse cx="764.3" cy="336" rx="0.9" ry="1" fill="#fff"/>
<ellipse cx="762.1" cy="342.6" rx="0.8" ry="0.6" fill="#ddd"/>
<ellipse cx="784.4" cy="336.9" rx="7.6" ry="10.5" fill="#1e1e1e" stroke="#161616" stroke-width="1.2"/>
<path d="M781.20,328.40 Q776.60,336.90 780.60,345.00 Q782.00,336.90 781.20,328.40 Z" fill="#fff" stroke="#fff" stroke-width="0.5" stroke-linejoin="round" stroke-linecap="round"/>
<path d="M782.60,339.30 Q785.20,343.10 787.80,339.10" fill="none" stroke="#fff" stroke-width="1.3" stroke-linejoin="round" stroke-linecap="round"/>
<ellipse cx="785.4" cy="330.5" rx="0.9" ry="0.9" fill="#fff"/>
<ellipse cx="785.6" cy="333.9" rx="1.6" ry="0.8" fill="#fff"/>
<ellipse cx="785.6" cy="337.5" rx="0.9" ry="1" fill="#fff"/>
<ellipse cx="783.4" cy="344.1" rx="0.8" ry="0.6" fill="#ddd"/>
<ellipse cx="808.1" cy="339.1" rx="7.2" ry="10.7" fill="#fff" stroke="#161616" stroke-width="2.0"/>
<ellipse cx="809" cy="339" rx="3.9" ry="7.5" fill="#fff" stroke="#161616" stroke-width="1.6"/>
<path d="M802.2,332.5 Q801,339 802.8,346" fill="none" stroke="#161616" stroke-width="1.2" stroke-linejoin="round" stroke-linecap="round"/>
<polygon points="828,337 831,334.6 835.6,335 837.6,338.6 837.2,343.8 834,346.4 829.4,346 827.2,342.4" fill="#777" stroke="#161616" stroke-width="1.8" stroke-linejoin="round"/>
<ellipse cx="833.2" cy="340.7" rx="2.4" ry="3.6" fill="#ddd"/>
<line x1="829.2" y1="337.6" x2="829" y2="344.6" stroke="#161616" stroke-width="1.4"/>
<text transform="translate(731.49,304) scale(0.944,1)" font-size="21.43">2</text>
<text transform="translate(742.52,304) scale(0.904,1)" font-size="21.43">5</text>
<line x1="740" y1="306.9" x2="738.75" y2="319.4" stroke="#161616" stroke-width="1.4"/>
<text transform="translate(767.09,307.5) scale(0.944,1)" font-size="19.29">2</text>
<path d="M782.69,294.88 L778.59,304.39 L785.12,304.39 M783.85,302.37 L784.01,306.62" fill="none" stroke="#1a1a1a" stroke-width="1.76" stroke-linecap="round" stroke-linejoin="round"/>
<polyline points="766.9,322.5 777.5,309.6 785,323.75" fill="none" stroke="#161616" stroke-width="1.4" stroke-linejoin="round"/>
<text transform="translate(802.01,309) scale(0.921,1)" font-size="21.43">2</text>
<text transform="translate(812.77,309) scale(0.882,1)" font-size="21.43">5</text>
<line x1="811.9" y1="313.75" x2="810.6" y2="326.25" stroke="#161616" stroke-width="1.4"/>
<text transform="translate(827.01,311) scale(0.921,1)" font-size="21.43">2</text>
<text transform="translate(837.55,311) scale(0.911,1)" font-size="21.43">6</text>
<line x1="834.4" y1="315.6" x2="833.1" y2="331.9" stroke="#161616" stroke-width="1.4"/>
<path d="M851,338.5 L868.7,340.6 L868.7,347.6 L851,347.4 Q849.6,343 851,338.5 Z" fill="#fff" stroke="#161616" stroke-width="1.4" stroke-linejoin="round" stroke-linecap="round"/>
<line x1="852" y1="338.9" x2="852" y2="347.2" stroke="#333" stroke-width="0.75"/>
<line x1="853.3" y1="339.06" x2="853.3" y2="347.23" stroke="#333" stroke-width="0.75"/>
<line x1="854.6" y1="339.22" x2="854.6" y2="347.26" stroke="#333" stroke-width="0.75"/>
<line x1="855.9" y1="339.38" x2="855.9" y2="347.29" stroke="#333" stroke-width="0.75"/>
<line x1="857.2" y1="339.54" x2="857.2" y2="347.32" stroke="#333" stroke-width="0.75"/>
<line x1="858.5" y1="339.7" x2="858.5" y2="347.35" stroke="#333" stroke-width="0.75"/>
<line x1="859.8" y1="339.86" x2="859.8" y2="347.38" stroke="#333" stroke-width="0.75"/>
<line x1="861.1" y1="340.02" x2="861.1" y2="347.41" stroke="#333" stroke-width="0.75"/>
<line x1="862.4" y1="340.18" x2="862.4" y2="347.44" stroke="#333" stroke-width="0.75"/>
<line x1="863.7" y1="340.34" x2="863.7" y2="347.47" stroke="#333" stroke-width="0.75"/>
<line x1="865" y1="340.5" x2="865" y2="347.5" stroke="#333" stroke-width="0.75"/>
<line x1="866.3" y1="340.66" x2="866.3" y2="347.53" stroke="#333" stroke-width="0.75"/>
<line x1="867.6" y1="340.82" x2="867.6" y2="347.56" stroke="#333" stroke-width="0.75"/>
<path d="M868.7,340.8 L877.4,341.4 L877.4,348.4 L868.7,347.8" fill="#fff" stroke="#161616" stroke-width="1.3" stroke-linejoin="round" stroke-linecap="round"/>
<path d="M878.8,337.4 L896.8,337.6 L896.8,355.6 L878.8,355.4 Q876.2,346.5 878.8,337.4 Z" fill="#fff" stroke="#161616" stroke-width="1.5" stroke-linejoin="round" stroke-linecap="round"/>
<ellipse cx="896.8" cy="346.6" rx="4.1" ry="9" fill="#fff" stroke="#161616" stroke-width="1.5"/>
<path d="M897,343.2 L919.6,344.2 L919.6,353 L897,353.2" fill="#fff" stroke="#161616" stroke-width="1.4" stroke-linejoin="round" stroke-linecap="round"/>
<ellipse cx="919.8" cy="348.6" rx="2.4" ry="4.6" fill="#fff" stroke="#161616" stroke-width="1.4"/>
<line x1="914" y1="343.8" x2="914" y2="353" stroke="#161616" stroke-width="1.0"/>
<line x1="916" y1="344" x2="916" y2="353" stroke="#161616" stroke-width="1.0"/>
<ellipse cx="920.2" cy="348.6" rx="1" ry="2" fill="#555"/>
<line x1="840" y1="342.2" x2="847.2" y2="342.2" stroke="#161616" stroke-width="1.2"/>
<path d="M889.22,301.94 L884.94,312.09 L891.76,312.09 M890.44,309.93 L890.61,314.46" fill="none" stroke="#1a1a1a" stroke-width="1.87" stroke-linecap="round" stroke-linejoin="round"/>
<line x1="890.8" y1="320.6" x2="888.9" y2="333.6" stroke="#161616" stroke-width="1.4"/>
<path d="M548,450.6 L548,471 C548.4,498 566,518.6 594.4,524.2 L656,530" fill="none" stroke="#161616" stroke-width="3.3" stroke-linejoin="round" stroke-linecap="round"/>
<path d="M548,450.6 L548,471 C548.4,498 566,518.6 594.4,524.2 L656,530" fill="none" stroke="#fff" stroke-width="1.0" stroke-linejoin="round" stroke-linecap="round"/>
<line x1="656" y1="530" x2="670" y2="531.8" stroke="#161616" stroke-width="1.1"/>
<path d="M670.2,533.8 L673.8,529.6 L675.2,530.6 L671.6,534.8 Z" fill="#222" stroke="#161616" stroke-width="1.2" stroke-linejoin="round" stroke-linecap="round"/>
<path d="M585.19,489.15 L588.64,486.3 L589.09,500.7" fill="none" stroke="#1a1a1a" stroke-width="1.95" stroke-linecap="round" stroke-linejoin="round"/>
<text transform="translate(592.17,501) scale(0.816,1)" font-size="21.43">7</text>
<line x1="586" y1="500.5" x2="571.3" y2="511.3" stroke="#161616" stroke-width="1.4"/>
<ellipse cx="692.6" cy="533" rx="4" ry="7.6" fill="#fff" stroke="#161616" stroke-width="2.2"/>
<ellipse cx="694.2" cy="533.2" rx="3.4" ry="7" fill="#fff" stroke="#161616" stroke-width="1.3"/>
<path d="M695.5,530.8 L710.5,532 L710.5,537.2 L695.5,536.6" fill="#fff" stroke="#161616" stroke-width="1.3" stroke-linejoin="round" stroke-linecap="round"/>
<line x1="696" y1="534.6" x2="710" y2="535.6" stroke="#555" stroke-width="0.9"/>
<ellipse cx="713" cy="535" rx="3.8" ry="7.3" fill="#fff" stroke="#161616" stroke-width="2.0"/>
<ellipse cx="714.6" cy="535.2" rx="3.2" ry="6.7" fill="#fff" stroke="#161616" stroke-width="1.3"/>
<path d="M716.4,532.4 L721,532.6 L721,538.4 L716.4,538.2 Z" fill="#fff" stroke="#161616" stroke-width="1.2" stroke-linejoin="round" stroke-linecap="round"/>
<path d="M720.6,532.4 L724.4,532.8 Q725.8,535.6 724.4,538.6 L720.6,538.6 Z" fill="#222" stroke="#161616" stroke-width="1.0" stroke-linejoin="round" stroke-linecap="round"/>
<path d="M709.53,493.36 L713.21,490.32 L713.69,505.68" fill="none" stroke="#1a1a1a" stroke-width="2.08" stroke-linecap="round" stroke-linejoin="round"/>
<text transform="translate(717,506) scale(0.764,1)" font-size="22.86">8</text>
<line x1="715" y1="510" x2="705" y2="526" stroke="#161616" stroke-width="1.4"/>
<polyline points="265.5,380 244,404" fill="none" stroke="#161616" stroke-width="1.2" stroke-linejoin="round"/>
<line x1="244" y1="404" x2="244" y2="437.5" stroke="#161616" stroke-width="1.1" stroke-dasharray="6,2,1,2"/>
<line x1="244" y1="437.5" x2="231.6" y2="450.6" stroke="#161616" stroke-width="1.2"/>
<text transform="translate(198.04,424) scale(0.993,1)" font-size="21.43">8</text>
<line x1="206.6" y1="428.8" x2="213.4" y2="444" stroke="#161616" stroke-width="1.4"/>
<polygon points="211.5,446.6 231.3,451.1 232,476.6 213.4,472.8" fill="#fff" stroke="#161616" stroke-width="1.6" stroke-linejoin="round"/>
<line x1="231.6" y1="451.2" x2="232.2" y2="476.4" stroke="#161616" stroke-width="2.6"/>
<ellipse cx="214.7" cy="451.9" rx="0.8" ry="0.9" fill="#333"/>
<ellipse cx="228.1" cy="456.2" rx="0.8" ry="0.9" fill="#333"/>
<ellipse cx="226.8" cy="471.5" rx="0.8" ry="0.9" fill="#333"/>
<path d="M219.6,458.6 L208,469 L211.6,474.6 L223.6,464 Z" fill="#fff" stroke-linejoin="round" stroke-linecap="round"/>
<line x1="219.6" y1="458.6" x2="208" y2="469.2" stroke="#161616" stroke-width="1.3"/>
<line x1="223.6" y1="463.8" x2="211.6" y2="474.8" stroke="#161616" stroke-width="1.3"/>
<ellipse cx="221.7" cy="461.2" rx="2.2" ry="3.4" fill="#fff" stroke="#161616" stroke-width="1.3" transform="rotate(40 221.7 461.2)"/>
<ellipse cx="209.8" cy="472" rx="2.3" ry="3.4" fill="#222" stroke="#161616" stroke-width="1.6" transform="rotate(40 209.8 472)"/>
<ellipse cx="210.2" cy="471.6" rx="0.9" ry="1.5" fill="#bbb" transform="rotate(40 210.2 471.6)"/>
<polyline points="210.9,456.8 204.5,461.3 145.1,444 141.5,449.5" fill="none" stroke="#161616" stroke-width="1.2" stroke-linejoin="round"/>
<path d="M120.89,414.98 L116.47,425.55 L123.5,425.55 M122.14,423.3 L122.32,428.02" fill="none" stroke="#1a1a1a" stroke-width="1.95" stroke-linecap="round" stroke-linejoin="round"/>
<text transform="translate(125.27,429) scale(0.882,1)" font-size="21.43">0</text>
<line x1="130" y1="435" x2="135" y2="444" stroke="#161616" stroke-width="1.4"/>
<ellipse cx="137.4" cy="453.2" rx="5.4" ry="4.8" fill="#fff" stroke="#161616" stroke-width="1.7" transform="rotate(38 137.4 453.2)"/>
<ellipse cx="137.4" cy="453.2" rx="2.7" ry="2.4" fill="none" stroke="#161616" stroke-width="1.5" transform="rotate(38 137.4 453.2)"/>
<line x1="135.56" y1="455.17" x2="139.24" y2="451.23" stroke="#161616" stroke-width="1.2"/>
<path d="M132.54,453.20 A5.40,4.80 0 0 0 137.40,457.76" fill="none" stroke="#1a1a1a" stroke-width="1.2" transform="rotate(38 137.40 453.20)"/>
<text transform="translate(91.49,449) scale(0.944,1)" font-size="21.43">2</text>
<text transform="translate(102.41,449) scale(0.914,1)" font-size="21.43">8</text>
<line x1="106" y1="452.5" x2="114" y2="467.5" stroke="#161616" stroke-width="1.4"/>
<g transform="translate(110.60,481.00) rotate(-44.45)">
<path d="M2.97,-2.4 L28.22,-2.4 Q30.02,0 28.22,2.4 L2.97,2.4 Z" fill="#fff" stroke="#161616" stroke-width="1.3" stroke-linejoin="round" stroke-linecap="round"/>
<line x1="13.24" y1="-2" x2="14.04" y2="2" stroke="#555" stroke-width="0.7"/>
<line x1="14.84" y1="-2" x2="15.64" y2="2" stroke="#555" stroke-width="0.7"/>
<line x1="16.44" y1="-2" x2="17.24" y2="2" stroke="#555" stroke-width="0.7"/>
<line x1="18.04" y1="-2" x2="18.84" y2="2" stroke="#555" stroke-width="0.7"/>
<line x1="19.64" y1="-2" x2="20.44" y2="2" stroke="#555" stroke-width="0.7"/>
<line x1="21.24" y1="-2" x2="22.04" y2="2" stroke="#555" stroke-width="0.7"/>
<line x1="22.84" y1="-2" x2="23.64" y2="2" stroke="#555" stroke-width="0.7"/>
<line x1="24.44" y1="-2" x2="25.24" y2="2" stroke="#555" stroke-width="0.7"/>
<line x1="26.04" y1="-2" x2="26.84" y2="2" stroke="#555" stroke-width="0.7"/>
<line x1="27.64" y1="-2" x2="28.44" y2="2" stroke="#555" stroke-width="0.7"/>
<line x1="13.24" y1="1.8" x2="27.92" y2="1.8" stroke="#444" stroke-width="1.1"/>
<polygon points="0.13,-5.13 3.11,-5.13 4.29,0 3.11,5.13 0.13,5.13 -1.05,0" fill="#fff" stroke="#161616" stroke-width="1.4" stroke-linejoin="round"/>
<line x1="1.35" y1="-4.86" x2="1.35" y2="4.86" stroke="#161616" stroke-width="0.9"/>
</g>
<line x1="210.2" y1="474.1" x2="189.2" y2="494.5" stroke="#161616" stroke-width="1.2"/>
<path d="M158.5,488.1 Q164,485.8 169.4,486.2 Q183,487.6 189.2,494.5 Q196.2,502 198.7,519.4 L198.1,525.1" fill="none" stroke="#161616" stroke-width="2.6" stroke-linejoin="round" stroke-linecap="round"/>
<line x1="158.5" y1="488.2" x2="165.5" y2="513.2" stroke="#161616" stroke-width="1.5"/>
<line x1="165.5" y1="513.2" x2="198.1" y2="525.1" stroke="#161616" stroke-width="1.5"/>
<line x1="198.1" y1="525.1" x2="198.6" y2="519.4" stroke="#161616" stroke-width="1.5"/>
<polyline points="160.4,492.6 149.3,504.6" fill="none" stroke="#161616" stroke-width="1.1" stroke-linejoin="round" stroke-dasharray="2.5,2"/>
<line x1="161" y1="491.5" x2="161.8" y2="494" stroke="#161616" stroke-width="1.4"/>
<line x1="149.6" y1="504.7" x2="257.5" y2="536" stroke="#161616" stroke-width="1.2"/>
<path d="M172.5,508.6 L160,518.4 L164.6,525.4 L177.6,515 Z" fill="#fff" stroke-linejoin="round" stroke-linecap="round"/>
<line x1="172.5" y1="508.6" x2="160" y2="518.6" stroke="#161616" stroke-width="1.3"/>
<line x1="177.6" y1="514.8" x2="164.6" y2="525.6" stroke="#161616" stroke-width="1.3"/>
<ellipse cx="175.8" cy="511.8" rx="3" ry="4.2" fill="#fff" stroke="#161616" stroke-width="1.3" transform="rotate(40 175.8 511.8)"/>
<ellipse cx="162.4" cy="522" rx="3" ry="4.2" fill="#222" stroke="#161616" stroke-width="1.6" transform="rotate(40 162.4 522)"/>
<ellipse cx="163" cy="521.4" rx="1.1" ry="2" fill="#bbb" transform="rotate(40 163 521.4)"/>
<line x1="161.1" y1="524.5" x2="142.5" y2="544.5" stroke="#161616" stroke-width="1.2"/>
<line x1="201.3" y1="507.3" x2="211.5" y2="507.3" stroke="#161616" stroke-width="1.4"/>
<text transform="translate(217.57,512.4) scale(0.983,1)" font-size="21.00">9</text>
<path d="M104.49,505.65 L107.94,502.8 L108.39,517.2" fill="none" stroke="#1a1a1a" stroke-width="1.95" stroke-linecap="round" stroke-linejoin="round"/>
<text transform="translate(112.2,517.5) scale(0.933,1)" font-size="21.43">0</text>
<line x1="117.5" y1="521" x2="125" y2="539" stroke="#161616" stroke-width="1.4"/>
<polygon points="125,541.2 141.2,545.4 143.8,619.2 127.5,615.4" fill="#fff" stroke="#161616" stroke-width="1.6" stroke-linejoin="round"/>
<line x1="142" y1="545.6" x2="144" y2="619" stroke="#161616" stroke-width="2.6"/>
<ellipse cx="133.4" cy="555.6" rx="1.4" ry="1.9" fill="none" stroke="#161616" stroke-width="1.3"/>
<ellipse cx="134.2" cy="607.6" rx="2.4" ry="3.4" fill="none" stroke="#161616" stroke-width="1.4"/>
<line x1="130" y1="560" x2="114.5" y2="578.6" stroke="#161616" stroke-width="1.2"/>
<ellipse cx="110.1" cy="579" rx="6" ry="5.2" fill="#fff" stroke="#161616" stroke-width="1.7" transform="rotate(38 110.1 579)"/>
<ellipse cx="110.1" cy="579" rx="3" ry="2.6" fill="none" stroke="#161616" stroke-width="1.5" transform="rotate(38 110.1 579)"/>
<line x1="108.05" y1="581.19" x2="112.15" y2="576.81" stroke="#161616" stroke-width="1.2"/>
<path d="M104.70,579.00 A6.00,5.20 0 0 0 110.10,583.94" fill="none" stroke="#1a1a1a" stroke-width="1.2" transform="rotate(38 110.10 579.00)"/>
<ellipse cx="97.1" cy="592.4" rx="5.8" ry="4.8" fill="#fff" stroke="#161616" stroke-width="1.7" transform="rotate(38 97.1 592.4)"/>
<ellipse cx="97.1" cy="592.4" rx="2.9" ry="2.4" fill="none" stroke="#161616" stroke-width="1.5" transform="rotate(38 97.1 592.4)"/>
<line x1="95.12" y1="594.52" x2="99.08" y2="590.28" stroke="#161616" stroke-width="1.2"/>
<path d="M91.88,592.40 A5.80,4.80 0 0 0 97.10,596.96" fill="none" stroke="#1a1a1a" stroke-width="1.2" transform="rotate(38 97.10 592.40)"/>
<line x1="101" y1="587.5" x2="105" y2="583.6" stroke="#161616" stroke-width="1.0"/>
<line x1="91.5" y1="596.5" x2="88.5" y2="600" stroke="#161616" stroke-width="1.0"/>
<text transform="translate(80.22,555) scale(0.914,1)" font-size="21.43">3</text>
<text transform="translate(91.02,555) scale(0.904,1)" font-size="21.43">5</text>
<line x1="99" y1="559" x2="106" y2="572.5" stroke="#161616" stroke-width="1.4"/>
<text transform="translate(58.22,575) scale(0.857,1)" font-size="22.86">3</text>
<text transform="translate(68.9,575) scale(0.866,1)" font-size="22.86">9</text>
<line x1="80" y1="577.5" x2="91" y2="587.5" stroke="#161616" stroke-width="1.4"/>
<text transform="translate(41.49,600) scale(0.885,1)" font-size="22.86">2</text>
<text transform="translate(52.28,600) scale(0.885,1)" font-size="22.86">7</text>
<line x1="61" y1="602.5" x2="72.5" y2="610" stroke="#161616" stroke-width="1.4"/>
<g transform="translate(68.60,622.00) rotate(-44.73)">
<path d="M3.08,-2.5 L28.92,-2.5 Q30.72,0 28.92,2.5 L3.08,2.5 Z" fill="#fff" stroke="#161616" stroke-width="1.3" stroke-linejoin="round" stroke-linecap="round"/>
<line x1="13.56" y1="-2.1" x2="14.36" y2="2.1" stroke="#555" stroke-width="0.7"/>
<line x1="15.16" y1="-2.1" x2="15.96" y2="2.1" stroke="#555" stroke-width="0.7"/>
<line x1="16.76" y1="-2.1" x2="17.56" y2="2.1" stroke="#555" stroke-width="0.7"/>
<line x1="18.36" y1="-2.1" x2="19.16" y2="2.1" stroke="#555" stroke-width="0.7"/>
<line x1="19.96" y1="-2.1" x2="20.76" y2="2.1" stroke="#555" stroke-width="0.7"/>
<line x1="21.56" y1="-2.1" x2="22.36" y2="2.1" stroke="#555" stroke-width="0.7"/>
<line x1="23.16" y1="-2.1" x2="23.96" y2="2.1" stroke="#555" stroke-width="0.7"/>
<line x1="24.76" y1="-2.1" x2="25.56" y2="2.1" stroke="#555" stroke-width="0.7"/>
<line x1="26.36" y1="-2.1" x2="27.16" y2="2.1" stroke="#555" stroke-width="0.7"/>
<line x1="27.96" y1="-2.1" x2="28.76" y2="2.1" stroke="#555" stroke-width="0.7"/>
<line x1="13.56" y1="1.9" x2="28.62" y2="1.9" stroke="#444" stroke-width="1.1"/>
<polygon points="0.14,-5.32 3.22,-5.32 4.45,0 3.22,5.32 0.14,5.32 -1.09,0" fill="#fff" stroke="#161616" stroke-width="1.4" stroke-linejoin="round"/>
<line x1="1.4" y1="-5.04" x2="1.4" y2="5.04" stroke="#161616" stroke-width="0.9"/>
</g>
<line x1="131.2" y1="614" x2="102.5" y2="641.2" stroke="#161616" stroke-width="1.2"/>
<path d="M57.4,684.4 Q50,690 45.4,702 Q40,716 38.8,728" fill="none" stroke="#161616" stroke-width="3.0" stroke-linejoin="round" stroke-linecap="round"/>
<path d="M57.4,684.4 Q50,690 45.4,702 Q40,716 38.8,728" fill="none" stroke="#fff" stroke-width="1.0" stroke-linejoin="round" stroke-linecap="round"/>
<path d="M42.6,737.2 Q50,748 58.8,760.4" fill="none" stroke="#161616" stroke-width="3.0" stroke-linejoin="round" stroke-linecap="round"/>
<path d="M42.6,737.2 Q50,748 58.8,760.4" fill="none" stroke="#fff" stroke-width="1.0" stroke-linejoin="round" stroke-linecap="round"/>
<path d="M59,760 Q62,757.6 66,760 L73.6,768 Q74.4,772.4 70,773 Q64.6,773.6 61.6,770 Q58,765 59,760 Z" fill="#222" stroke="#161616" stroke-width="1.0" stroke-linejoin="round" stroke-linecap="round"/>
<line x1="64" y1="764" x2="68" y2="768.6" stroke="#bbb" stroke-width="1.0"/>
<g transform="translate(76.65,666.4) rotate(-42.5)">
<path d="M-25.4,-5.2 L-7,-5.2 L-7,5.2 L-25.4,5.2 Q-26.8,0 -25.4,-5.2 Z" fill="#fff" stroke="#161616" stroke-width="1.4" stroke-linejoin="round" stroke-linecap="round"/>
<rect x="-25" y="0.8" width="18" height="4.2" fill="#333"/>
<line x1="-23" y1="-4.6" x2="-23" y2="0.8" stroke="#666" stroke-width="0.7"/>
<line x1="-21" y1="-4.6" x2="-21" y2="0.8" stroke="#666" stroke-width="0.7"/>
<line x1="-19" y1="-4.6" x2="-19" y2="0.8" stroke="#666" stroke-width="0.7"/>
<line x1="-17" y1="-4.6" x2="-17" y2="0.8" stroke="#666" stroke-width="0.7"/>
<line x1="-15" y1="-4.6" x2="-15" y2="0.8" stroke="#666" stroke-width="0.7"/>
<line x1="-13" y1="-4.6" x2="-13" y2="0.8" stroke="#666" stroke-width="0.7"/>
<line x1="-11" y1="-4.6" x2="-11" y2="0.8" stroke="#666" stroke-width="0.7"/>
<line x1="-9" y1="-4.6" x2="-9" y2="0.8" stroke="#666" stroke-width="0.7"/>
<path d="M-27.6,-4.4 Q-29,0 -27.6,4.4 L-25.2,4.6 Q-26.4,0 -25.2,-4.6 Z" fill="#fff" stroke="#161616" stroke-width="1.2" stroke-linejoin="round" stroke-linecap="round"/>
<path d="M-7,-7.6 Q-7,-9.2 -5.2,-9.2 L-1.2000000000000002,-9.2 Q0.6,-9.2 0.6,-7.6 L0.6,7.6 Q0.6,9.2 -1.2000000000000002,9.2 L-5.2,9.2 Q-7,9.2 -7,7.6 Z" fill="#fff" stroke="#161616" stroke-width="1.5" stroke-linejoin="round" stroke-linecap="round"/>
<rect x="-6.4" y="3.2199999999999998" width="6.3999999999999995" height="5.52" fill="#333"/>
<path d="M0.6,-6.6 Q0.6,-8.2 2.4,-8.2 L2.6000000000000005,-8.2 Q4.4,-8.2 4.4,-6.6 L4.4,6.6 Q4.4,8.2 2.6000000000000005,8.2 L2.4,8.2 Q0.6,8.2 0.6,6.6 Z" fill="#fff" stroke="#161616" stroke-width="1.5" stroke-linejoin="round" stroke-linecap="round"/>
<rect x="1.2" y="2.8699999999999997" width="2.6000000000000005" height="4.919999999999999" fill="#333"/>
<path d="M4.4,-7.800000000000001 Q4.4,-9.4 6.2,-9.4 L10.799999999999999,-9.4 Q12.6,-9.4 12.6,-7.800000000000001 L12.6,7.800000000000001 Q12.6,9.4 10.799999999999999,9.4 L6.2,9.4 Q4.4,9.4 4.4,7.800000000000001 Z" fill="#fff" stroke="#161616" stroke-width="1.5" stroke-linejoin="round" stroke-linecap="round"/>
<rect x="5.0" y="3.29" width="6.999999999999999" height="5.64" fill="#333"/>
<path d="M12.6,-5.6 L24,-5.6 Q26.6,0 24,5.6 L12.6,5.6 Z" fill="#fff" stroke="#161616" stroke-width="1.4" stroke-linejoin="round" stroke-linecap="round"/>
<rect x="13" y="1.4" width="11.5" height="4" fill="#333"/>
<line x1="15" y1="-5" x2="15" y2="1.4" stroke="#666" stroke-width="0.7"/>
<line x1="17" y1="-5" x2="17" y2="1.4" stroke="#666" stroke-width="0.7"/>
<line x1="19" y1="-5" x2="19" y2="1.4" stroke="#666" stroke-width="0.7"/>
<line x1="21" y1="-5" x2="21" y2="1.4" stroke="#666" stroke-width="0.7"/>
<line x1="23" y1="-5" x2="23" y2="1.4" stroke="#666" stroke-width="0.7"/>
<ellipse cx="24.6" cy="0" rx="1.6" ry="5.4" fill="#fff" stroke="#161616" stroke-width="1.2"/>
</g>
<text transform="translate(95.09,701) scale(0.797,1)" font-size="22.86">2</text>
<text transform="translate(104.8,701) scale(0.797,1)" font-size="22.86">2</text>
<line x1="87.5" y1="675" x2="97.5" y2="686" stroke="#161616" stroke-width="1.4"/>
<polyline points="257.5,536 244.5,551.8" fill="none" stroke="#161616" stroke-width="1.2" stroke-linejoin="round"/>
<ellipse cx="244" cy="551" rx="6" ry="5.2" fill="#fff" stroke="#161616" stroke-width="1.7" transform="rotate(38 244 551)"/>
<ellipse cx="244" cy="551" rx="3" ry="2.6" fill="none" stroke="#161616" stroke-width="1.5" transform="rotate(38 244 551)"/>
<line x1="241.95" y1="553.19" x2="246.05" y2="548.81" stroke="#161616" stroke-width="1.2"/>
<path d="M238.60,551.00 A6.00,5.20 0 0 0 244.00,555.94" fill="none" stroke="#1a1a1a" stroke-width="1.2" transform="rotate(38 244.00 551.00)"/>
<ellipse cx="232.5" cy="564" rx="6" ry="5.2" fill="#fff" stroke="#161616" stroke-width="1.7" transform="rotate(38 232.5 564)"/>
<ellipse cx="232.5" cy="564" rx="3" ry="2.6" fill="none" stroke="#161616" stroke-width="1.5" transform="rotate(38 232.5 564)"/>
<line x1="230.45" y1="566.19" x2="234.55" y2="561.81" stroke="#161616" stroke-width="1.2"/>
<path d="M227.10,564.00 A6.00,5.20 0 0 0 232.50,568.94" fill="none" stroke="#1a1a1a" stroke-width="1.2" transform="rotate(38 232.50 564.00)"/>
<line x1="240.5" y1="555.4" x2="236.5" y2="559.6" stroke="#161616" stroke-width="1.0"/>
<line x1="228.6" y1="568.4" x2="214" y2="584.4" stroke="#161616" stroke-width="1.0"/>
<text transform="translate(256.78,577.5) scale(0.769,1)" font-size="23.57">3</text>
<text transform="translate(266.77,577.5) scale(0.761,1)" font-size="23.57">5</text>
<polyline points="248.8,555.6 255,567.2 238.6,567.6" fill="none" stroke="#161616" stroke-width="1.3" stroke-linejoin="round"/>
<polygon points="205,576.2 286.2,597.6 284,610 204,587.6" fill="#fff" stroke="#161616" stroke-width="1.6" stroke-linejoin="round"/>
<line x1="205" y1="576.2" x2="204" y2="587.6" stroke="#161616" stroke-width="1.6"/>
<line x1="286.2" y1="597.6" x2="284.2" y2="610" stroke="#161616" stroke-width="2.8"/>
<line x1="205.6" y1="576.6" x2="286" y2="598" stroke="#161616" stroke-width="2.3"/>
<ellipse cx="213.2" cy="583.4" rx="2" ry="2.1" fill="none" stroke="#161616" stroke-width="1.4"/>
<ellipse cx="262.7" cy="599.3" rx="2.1" ry="2" fill="none" stroke="#161616" stroke-width="1.4"/>
<ellipse cx="277.7" cy="601.8" rx="2.2" ry="2.2" fill="none" stroke="#161616" stroke-width="1.5"/>
<path d="M285.7,574.04 L289.04,571.29 L289.47,585.21" fill="none" stroke="#1a1a1a" stroke-width="1.89" stroke-linecap="round" stroke-linejoin="round"/>
<text transform="translate(292.45,585.5) scale(0.817,1)" font-size="20.71">2</text>
<line x1="266" y1="587.6" x2="285" y2="582.4" stroke="#161616" stroke-width="1.2"/>
<polygon points="212.5,617.6 296.2,637.6 295,650.2 211,627.6" fill="#fff" stroke="#161616" stroke-width="1.6" stroke-linejoin="round"/>
<line x1="212.5" y1="617.6" x2="296.2" y2="637.6" stroke="#161616" stroke-width="2.4"/>
<line x1="296" y1="637.6" x2="295" y2="650" stroke="#161616" stroke-width="2.6"/>
<path d="M221.6,621.4 L259.6,632.4 Q262.6,634.4 260,637.4 L221,626.6 Q218.6,623.6 221.6,621.4 Z" fill="#fff" stroke="#161616" stroke-width="1.5" stroke-linejoin="round" stroke-linecap="round"/>
<ellipse cx="287.8" cy="644.2" rx="2.2" ry="2.2" fill="none" stroke="#161616" stroke-width="1.4"/>
<line x1="300" y1="643" x2="321" y2="643" stroke="#161616" stroke-width="1.4"/>
<path d="M323.85,638.94 L327.07,636.28 L327.49,649.72" fill="none" stroke="#1a1a1a" stroke-width="1.82" stroke-linecap="round" stroke-linejoin="round"/>
<text transform="translate(330.65,650) scale(0.819,1)" font-size="20.00">3</text>
<line x1="277.6" y1="602.6" x2="255.4" y2="629.6" stroke="#161616" stroke-width="1.2"/>
<line x1="250" y1="632.6" x2="236.5" y2="647.6" stroke="#161616" stroke-width="1.2"/>
<line x1="287.6" y1="644.2" x2="274" y2="659.6" stroke="#161616" stroke-width="1.2"/>
<line x1="212.5" y1="584.5" x2="197.8" y2="601" stroke="#161616" stroke-width="1.2"/>
<ellipse cx="195" cy="603.3" rx="5.9" ry="5.3" fill="#fff" stroke="#161616" stroke-width="1.7" transform="rotate(38 195 603.3)"/>
<ellipse cx="195" cy="603.3" rx="2.95" ry="2.65" fill="none" stroke="#161616" stroke-width="1.5" transform="rotate(38 195 603.3)"/>
<line x1="192.99" y1="605.46" x2="197.01" y2="601.14" stroke="#161616" stroke-width="1.2"/>
<path d="M189.69,603.30 A5.90,5.30 0 0 0 195.00,608.33" fill="none" stroke="#1a1a1a" stroke-width="1.2" transform="rotate(38 195.00 603.30)"/>
<text transform="translate(154.22,610) scale(0.857,1)" font-size="22.86">3</text>
<text transform="translate(165.02,610) scale(0.848,1)" font-size="22.86">5</text>
<line x1="175.5" y1="601" x2="188.6" y2="602.2" stroke="#161616" stroke-width="1.2"/>
<line x1="192.5" y1="607.2" x2="185" y2="615.2" stroke="#161616" stroke-width="1.0"/>
<polygon points="183,615.4 195.2,626.6 194.6,628.4 181.6,621.6" fill="#222" stroke="#161616" stroke-width="0.8" stroke-linejoin="round"/>
<ellipse cx="181" cy="618.2" rx="3.2" ry="3" fill="#fff" stroke="#161616" stroke-width="2.2" transform="rotate(-30 181 618.2)"/>
<ellipse cx="181.2" cy="618.6" rx="1" ry="1" fill="#fff"/>
<path d="M150.39,629.98 L145.97,640.55 L153.01,640.55 M151.65,638.3 L151.83,643.02" fill="none" stroke="#1a1a1a" stroke-width="1.95" stroke-linecap="round" stroke-linejoin="round"/>
<path d="M158.08,632.15 L161.53,629.3 L161.97,643.7" fill="none" stroke="#1a1a1a" stroke-width="1.95" stroke-linecap="round" stroke-linejoin="round"/>
<line x1="165" y1="630" x2="179" y2="624" stroke="#161616" stroke-width="1.4"/>
<line x1="349.2" y1="311.5" x2="350.4" y2="565.6" stroke="#161616" stroke-width="1.2"/>
<path d="M340.6,575.8 L366.7,548.1 Q368.2,548 368.2,549.6 L368.5,578.3 L354.8,592.2" fill="#fff" stroke="#161616" stroke-width="1.4" stroke-linejoin="round" stroke-linecap="round"/>
<path d="M368.6,591.2 L342.4,617 Q340.8,618 340.8,616.4 L340.6,575.8" fill="#fff" stroke="#161616" stroke-width="1.4" stroke-linejoin="round" stroke-linecap="round"/>
<line x1="340.8" y1="576.4" x2="341" y2="616.6" stroke="#161616" stroke-width="2.3"/>
<line x1="341" y1="575.4" x2="366.6" y2="548.6" stroke="#161616" stroke-width="2.1"/>
<path d="M355.4,597.6 L366.4,587.4 Q369,586.4 368.6,589.2 L357.6,599.6 Q354.6,600.6 355.4,597.6 Z" fill="#fff" stroke="#161616" stroke-width="1.5" stroke-linejoin="round" stroke-linecap="round"/>
<path d="M339.4,586.6 L329.4,596.6 L333.6,601.8 L339.6,596.2" fill="#fff" stroke="#161616" stroke-width="1.2" stroke-linejoin="round" stroke-linecap="round"/>
<ellipse cx="330.8" cy="599.6" rx="2.2" ry="3.4" fill="#fff" stroke="#161616" stroke-width="1.3" transform="rotate(40 330.8 599.6)"/>
<line x1="328" y1="603.2" x2="320" y2="610.8" stroke="#161616" stroke-width="1.2"/>
<line x1="297.5" y1="634" x2="320" y2="610.8" stroke="#161616" stroke-width="1.2"/>
<path d="M383.97,548.15 L387.42,545.3 L387.87,559.7" fill="none" stroke="#1a1a1a" stroke-width="1.95" stroke-linecap="round" stroke-linejoin="round"/>
<path d="M390.57,548.15 L394.02,545.3 L394.47,559.7" fill="none" stroke="#1a1a1a" stroke-width="1.95" stroke-linecap="round" stroke-linejoin="round"/>
<line x1="369.4" y1="566" x2="381.9" y2="554.1" stroke="#161616" stroke-width="1.3"/>
<ellipse cx="269" cy="663.8" rx="6.1" ry="5.4" fill="#fff" stroke="#161616" stroke-width="1.7" transform="rotate(38 269 663.8)"/>
<ellipse cx="269" cy="663.8" rx="3.05" ry="2.7" fill="none" stroke="#161616" stroke-width="1.5" transform="rotate(38 269 663.8)"/>
<line x1="266.92" y1="666.03" x2="271.08" y2="661.57" stroke="#161616" stroke-width="1.2"/>
<path d="M263.51,663.80 A6.10,5.40 0 0 0 269.00,668.93" fill="none" stroke="#1a1a1a" stroke-width="1.2" transform="rotate(38 269.00 663.80)"/>
<line x1="266.8" y1="666.8" x2="260.7" y2="673.2" stroke="#161616" stroke-width="1.0"/>
<polygon points="258.6,672.6 272,681.4 271.6,683 256.4,678.6" fill="#222" stroke="#161616" stroke-width="0.8" stroke-linejoin="round"/>
<ellipse cx="257.2" cy="675.7" rx="3.4" ry="3" fill="#fff" stroke="#161616" stroke-width="2.2" transform="rotate(-30 257.2 675.7)"/>
<ellipse cx="257.4" cy="676" rx="1" ry="1" fill="#fff"/>
<line x1="276.5" y1="665" x2="287.5" y2="665.6" stroke="#161616" stroke-width="1.3"/>
<text transform="translate(290.26,676) scale(0.814,1)" font-size="22.86">3</text>
<text transform="translate(300.52,676) scale(0.806,1)" font-size="22.86">5</text>
<line x1="272.5" y1="681" x2="287.5" y2="692.5" stroke="#161616" stroke-width="1.4"/>
<path d="M293.93,683.48 L289.98,694.05 L296.24,694.05 M295.08,691.8 L295.24,696.52" fill="none" stroke="#1a1a1a" stroke-width="1.95" stroke-linecap="round" stroke-linejoin="round"/>
<path d="M300.57,685.65 L304.02,682.8 L304.47,697.2" fill="none" stroke="#1a1a1a" stroke-width="1.95" stroke-linecap="round" stroke-linejoin="round"/>
<ellipse cx="230.9" cy="651.6" rx="6.2" ry="5.4" fill="#fff" stroke="#161616" stroke-width="1.7" transform="rotate(38 230.9 651.6)"/>
<ellipse cx="230.9" cy="651.6" rx="3.1" ry="2.7" fill="none" stroke="#161616" stroke-width="1.5" transform="rotate(38 230.9 651.6)"/>
<line x1="228.79" y1="653.87" x2="233.01" y2="649.33" stroke="#161616" stroke-width="1.2"/>
<path d="M225.32,651.60 A6.20,5.40 0 0 0 230.90,656.73" fill="none" stroke="#1a1a1a" stroke-width="1.2" transform="rotate(38 230.90 651.60)"/>
<ellipse cx="217.8" cy="665.5" rx="5.9" ry="5.4" fill="#fff" stroke="#161616" stroke-width="1.7" transform="rotate(38 217.8 665.5)"/>
<ellipse cx="217.8" cy="665.5" rx="2.95" ry="2.7" fill="none" stroke="#161616" stroke-width="1.5" transform="rotate(38 217.8 665.5)"/>
<line x1="215.79" y1="667.66" x2="219.81" y2="663.34" stroke="#161616" stroke-width="1.2"/>
<path d="M212.49,665.50 A5.90,5.40 0 0 0 217.80,670.63" fill="none" stroke="#1a1a1a" stroke-width="1.2" transform="rotate(38 217.80 665.50)"/>
<line x1="226.4" y1="656.2" x2="222" y2="660.8" stroke="#161616" stroke-width="1.0"/>
<text transform="translate(233.22,694) scale(0.831,1)" font-size="23.57">3</text>
<text transform="translate(243.79,694) scale(0.849,1)" font-size="23.57">6</text>
<line x1="235" y1="657.6" x2="242.5" y2="675" stroke="#161616" stroke-width="1.4"/>
<path d="M226.52,696.04 L222.04,707.32 L229.17,707.32 M227.81,704.92 L228,709.96" fill="none" stroke="#1a1a1a" stroke-width="2.08" stroke-linecap="round" stroke-linejoin="round"/>
<text transform="translate(231.02,711) scale(0.848,1)" font-size="22.86">0</text>
<line x1="220.2" y1="672" x2="226" y2="691" stroke="#161616" stroke-width="1.4"/>
<g transform="translate(190.00,694.60) rotate(-46.72)">
<path d="M3.08,-2.6 L31.77,-2.6 Q33.57,0 31.77,2.6 L3.08,2.6 Z" fill="#fff" stroke="#161616" stroke-width="1.3" stroke-linejoin="round" stroke-linecap="round"/>
<line x1="14.83" y1="-2.2" x2="15.63" y2="2.2" stroke="#555" stroke-width="0.7"/>
<line x1="16.43" y1="-2.2" x2="17.23" y2="2.2" stroke="#555" stroke-width="0.7"/>
<line x1="18.03" y1="-2.2" x2="18.83" y2="2.2" stroke="#555" stroke-width="0.7"/>
<line x1="19.63" y1="-2.2" x2="20.43" y2="2.2" stroke="#555" stroke-width="0.7"/>
<line x1="21.23" y1="-2.2" x2="22.03" y2="2.2" stroke="#555" stroke-width="0.7"/>
<line x1="22.83" y1="-2.2" x2="23.63" y2="2.2" stroke="#555" stroke-width="0.7"/>
<line x1="24.43" y1="-2.2" x2="25.23" y2="2.2" stroke="#555" stroke-width="0.7"/>
<line x1="26.03" y1="-2.2" x2="26.83" y2="2.2" stroke="#555" stroke-width="0.7"/>
<line x1="27.63" y1="-2.2" x2="28.43" y2="2.2" stroke="#555" stroke-width="0.7"/>
<line x1="29.23" y1="-2.2" x2="30.03" y2="2.2" stroke="#555" stroke-width="0.7"/>
<line x1="30.83" y1="-2.2" x2="31.63" y2="2.2" stroke="#555" stroke-width="0.7"/>
<line x1="14.83" y1="2" x2="31.47" y2="2" stroke="#444" stroke-width="1.1"/>
<polygon points="0.14,-5.32 3.22,-5.32 4.45,0 3.22,5.32 0.14,5.32 -1.09,0" fill="#fff" stroke="#161616" stroke-width="1.4" stroke-linejoin="round"/>
<line x1="1.4" y1="-5.04" x2="1.4" y2="5.04" stroke="#161616" stroke-width="0.9"/>
</g>
<text transform="translate(201.49,733) scale(0.885,1)" font-size="22.86">2</text>
<text transform="translate(212.4,733) scale(0.866,1)" font-size="22.86">9</text>
<line x1="197.5" y1="697.5" x2="206" y2="714" stroke="#161616" stroke-width="1.4"/>
<defs><linearGradient id="bl" x1="100" y1="0" x2="966" y2="0" gradientUnits="userSpaceOnUse"><stop offset="0" stop-color="#c8c8c8"/><stop offset="0.35" stop-color="#999"/><stop offset="0.7" stop-color="#666"/><stop offset="1" stop-color="#3a3a3a"/></linearGradient></defs>
<line x1="100" y1="781.2" x2="966" y2="777.6" stroke="url(#bl)" stroke-width="1.4"/>
<polygon points="185.6,231.9 277,239.6 245.1,269.6 155,261.25" fill="#fff" stroke="#161616" stroke-width="1.4" stroke-linejoin="round"/>
<ellipse cx="181.6" cy="248.2" rx="5.2" ry="2.4" fill="#fff" stroke="#161616" stroke-width="1.2"/>
<path d="M178.6,248 L178.8,242.4 Q179.4,239.4 181.6,239.4 Q184,239.6 184.4,242.6 L184.6,248" fill="#fff" stroke="#161616" stroke-width="1.2" stroke-linejoin="round" stroke-linecap="round"/>
<polyline points="155,261.5 150.6,290 153.75,315 183.1,318.3" fill="none" stroke="#161616" stroke-width="1.4" stroke-linejoin="round"/>
<polyline points="155,261.5 203.1,266.4 244.6,269.6" fill="none" stroke="#161616" stroke-width="1.4" stroke-linejoin="round"/>
<line x1="203.1" y1="266.4" x2="203.1" y2="318.6" stroke="#161616" stroke-width="1.4"/>
<line x1="150.6" y1="290" x2="202.5" y2="294.4" stroke="#161616" stroke-width="1.4"/>
<line x1="202.5" y1="294.4" x2="243.3" y2="298.1" stroke="#161616" stroke-width="1.4"/>
<line x1="236" y1="297.2" x2="243.3" y2="298.1" stroke="#161616" stroke-width="1.4"/>
<line x1="151.2" y1="290.6" x2="202.5" y2="315" stroke="#161616" stroke-width="1.4"/>
<line x1="150.6" y1="294.4" x2="201.9" y2="318.1" stroke="#161616" stroke-width="1.4"/>
<line x1="182.6" y1="309.6" x2="183.1" y2="318.3" stroke="#161616" stroke-width="1.4"/>
<line x1="153.75" y1="315" x2="183.1" y2="318.3" stroke="#161616" stroke-width="1.4"/>
<line x1="202.5" y1="318.8" x2="243.3" y2="322" stroke="#161616" stroke-width="1.4"/>
<line x1="243.3" y1="269.6" x2="243.3" y2="331" stroke="#161616" stroke-width="1.6"/>
<line x1="285.4" y1="263.3" x2="283.6" y2="335" stroke="#161616" stroke-width="1.6"/>
<line x1="245.1" y1="269.6" x2="280.4" y2="237" stroke="#161616" stroke-width="1.4"/>
<line x1="280.4" y1="237" x2="310.3" y2="239.7" stroke="#161616" stroke-width="1.4"/>
<line x1="274.1" y1="243.8" x2="303.1" y2="246.9" stroke="#161616" stroke-width="1.4"/>
<line x1="251.9" y1="263.3" x2="285.9" y2="265.9" stroke="#161616" stroke-width="1.4"/>
<line x1="246.9" y1="271.6" x2="284" y2="275" stroke="#161616" stroke-width="1.4"/>
<line x1="244.6" y1="301.3" x2="283.1" y2="304.9" stroke="#161616" stroke-width="1.4"/>
<line x1="243.7" y1="321.2" x2="282.7" y2="323.5" stroke="#161616" stroke-width="1.4"/>
<line x1="243.3" y1="330.9" x2="255.9" y2="333.5" stroke="#161616" stroke-width="1.4"/>
<line x1="324" y1="226.1" x2="286.8" y2="263.3" stroke="#161616" stroke-width="1.4"/>
<line x1="324" y1="226.1" x2="357.1" y2="229.1" stroke="#161616" stroke-width="1.4"/>
<line x1="287.7" y1="263.2" x2="329.4" y2="266.3" stroke="#161616" stroke-width="1.4"/>
<line x1="328.9" y1="266.3" x2="328.5" y2="312.6" stroke="#161616" stroke-width="1.6"/>
<line x1="285.9" y1="277.2" x2="327.6" y2="281.3" stroke="#161616" stroke-width="1.4"/>
<line x1="285" y1="301.3" x2="335.7" y2="305.8" stroke="#161616" stroke-width="1.4"/>
<line x1="285" y1="309" x2="326.7" y2="312.6" stroke="#161616" stroke-width="1.4"/>
<line x1="284" y1="320.3" x2="306.7" y2="322.6" stroke="#161616" stroke-width="1.4"/>
<line x1="329.4" y1="266.3" x2="339.4" y2="257.4" stroke="#161616" stroke-width="1.4"/>
<line x1="283.6" y1="329.8" x2="301.4" y2="330.9" stroke="#161616" stroke-width="1.4"/>
<line x1="283.6" y1="334.6" x2="298.3" y2="336.1" stroke="#161616" stroke-width="1.4"/>
<line x1="304.6" y1="322.5" x2="298.3" y2="336.1" stroke="#161616" stroke-width="1.4"/>
<line x1="306.7" y1="322.6" x2="302.2" y2="331" stroke="#161616" stroke-width="1.4"/>
<polygon points="362.9,223.5 403.3,227.1 380.7,250.5 339.5,246.1" fill="#fff" stroke="#161616" stroke-width="1.4" stroke-linejoin="round"/>
<polyline points="403.3,227.1 412.8,230.4 416.6,233.4 393.4,256.4 389.6,254.6 380.7,250.5" fill="#fff" stroke="#161616" stroke-width="1.5" stroke-linejoin="round"/>
<line x1="413.6" y1="231.4" x2="391.2" y2="254.8" stroke="#161616" stroke-width="2.2"/>
<line x1="416.6" y1="233.4" x2="393.4" y2="256.4" stroke="#161616" stroke-width="1.8"/>
<ellipse cx="397" cy="238.6" rx="3.2" ry="2" fill="#fff" stroke="#161616" stroke-width="1.1"/>
<ellipse cx="398.9" cy="235" rx="2.8" ry="4.3" fill="#fff" stroke="#161616" stroke-width="1.3"/>
<ellipse cx="404.4" cy="232.4" rx="2.1" ry="3.9" fill="#fff" stroke="#161616" stroke-width="1.3"/>
<line x1="339.5" y1="246.1" x2="338.7" y2="295.6" stroke="#161616" stroke-width="1.5"/>
<line x1="380.7" y1="250.5" x2="373.6" y2="295.8" stroke="#161616" stroke-width="1.5"/>
<line x1="339.5" y1="254.8" x2="378.7" y2="258.8" stroke="#161616" stroke-width="1.4"/>
<line x1="400.7" y1="251" x2="399.5" y2="273.4" stroke="#161616" stroke-width="1.4"/>
<polyline points="338.7,256.8 332,261.5 338.7,267.1" fill="none" stroke="#161616" stroke-width="1.1" stroke-linejoin="round"/>
<line x1="341.4" y1="265.5" x2="341.2" y2="295.4" stroke="#161616" stroke-width="1.4"/>
<polyline points="341.8,265.4 349.2,265.1 356.2,280.2" fill="none" stroke="#161616" stroke-width="1.3" stroke-linejoin="round"/>
<line x1="349.4" y1="265.3" x2="356.6" y2="281" stroke="#161616" stroke-width="2.6"/>
<polygon points="355.5,280.2 369.1,280.6 362.8,287.6 356.2,286.6 355.5,280.2" fill="#fff" stroke="#161616" stroke-width="1.4" stroke-linejoin="round"/>
<line x1="362.8" y1="287.6" x2="362.8" y2="297.2" stroke="#161616" stroke-width="1.4"/>
<line x1="369.1" y1="280.6" x2="369.6" y2="297.4" stroke="#161616" stroke-width="1.4"/>
<line x1="338.2" y1="295.1" x2="372.3" y2="297.7" stroke="#161616" stroke-width="1.4"/>
<polygon points="400,265.3 405.6,264.2 406,268.4 400.6,273.6" fill="#fff" stroke="#161616" stroke-width="1.3" stroke-linejoin="round"/>
<line x1="399.9" y1="272.2" x2="372.3" y2="300" stroke="#161616" stroke-width="1.3"/>
<line x1="401.4" y1="273.8" x2="373.8" y2="301.6" stroke="#161616" stroke-width="1.3"/>
<line x1="348.2" y1="307.7" x2="381.7" y2="309.3" stroke="#161616" stroke-width="1.4"/>
<line x1="345" y1="319.2" x2="385.9" y2="327.1" stroke="#161616" stroke-width="1.4"/>
<polyline points="372.3,301.4 392.1,284.7 404.7,287" fill="none" stroke="#161616" stroke-width="1.4" stroke-linejoin="round"/>
<polygon points="381.7,308.7 404.7,286.8 408.9,302.5 385.9,326.5" fill="#fff" stroke="#161616" stroke-width="1.6" stroke-linejoin="round"/>
<polygon points="384.8,309.8 403.7,294.1 405.8,303.5 386.9,321.3" fill="#fff" stroke="#161616" stroke-width="1.4" stroke-linejoin="round"/>
<path d="M362.8,306.2 L362.8,303.4 Q363.4,301.4 365.8,301.4 Q368.6,301.6 368.8,304.6" fill="none" stroke="#161616" stroke-width="1.2" stroke-linejoin="round" stroke-linecap="round"/>
<path d="M404.5,273 Q409.6,279 409.9,289.8 Q409.6,294 408.3,296.7" fill="none" stroke="#161616" stroke-width="1.3" stroke-linejoin="round" stroke-linecap="round"/>
<path d="M339.2,309.2 Q333.8,314.6 338.6,320.2" fill="none" stroke="#161616" stroke-width="1.5" stroke-linejoin="round" stroke-linecap="round"/>
<line x1="343.4" y1="309" x2="343.4" y2="320.2" stroke="#161616" stroke-width="1.2"/>
<line x1="345" y1="309" x2="345" y2="320.2" stroke="#161616" stroke-width="1.2"/>
<line x1="339.2" y1="306.4" x2="341.6" y2="303.2" stroke="#161616" stroke-width="1.1"/>
<line x1="343.2" y1="306.6" x2="345.6" y2="303.6" stroke="#161616" stroke-width="1.1"/>
<line x1="347.4" y1="306.6" x2="349.6" y2="303.8" stroke="#161616" stroke-width="1.1"/>
<path d="M331.8,315 Q332.6,318.4 335.2,320" fill="none" stroke="#666" stroke-width="0.9" stroke-linejoin="round" stroke-linecap="round"/>
<path d="M341.8,321.6 Q343,326 345.2,328.4" fill="none" stroke="#666" stroke-width="0.9" stroke-linejoin="round" stroke-linecap="round"/>
<path d="M265.5,380 L307,336.5 Q316,322 339.1,303.7" fill="none" stroke="#161616" stroke-width="1.3" stroke-linejoin="round" stroke-linecap="round"/>
<line x1="278.4" y1="347.6" x2="304.6" y2="351.8" stroke="#161616" stroke-width="1.4"/>
<line x1="326.7" y1="313.5" x2="306.7" y2="322.6" stroke="#161616" stroke-width="1.4"/>
<path d="M270.5,323.6 L242.6,345.2 Q240.2,349.2 241.8,352.4 Q243.6,355 246.4,354.2 L281,332.5" fill="#fff" stroke="#161616" stroke-width="1.5" stroke-linejoin="round" stroke-linecap="round"/>
<line x1="258.6" y1="335.2" x2="271.8" y2="325" stroke="#161616" stroke-width="1.0"/>
<path d="M241.8,346.8 L257.4,334.4" fill="none" stroke="#161616" stroke-width="2.6" stroke-linejoin="round" stroke-linecap="round"/>
<line x1="255.9" y1="333.5" x2="243.5" y2="344.2" stroke="#161616" stroke-width="0.8"/>
<path d="M268.4,340.8 Q268.4,347.4 270.6,349 Q274,350 276.8,348.2 Q281.6,341 283.2,332.5" fill="#fff" stroke="#161616" stroke-width="1.4" stroke-linejoin="round" stroke-linecap="round"/>
<path d="M279.4,343 Q282,338 283.2,332.5" fill="none" stroke="#161616" stroke-width="2.4" stroke-linejoin="round" stroke-linecap="round"/>
<line x1="220.3" y1="326.7" x2="224.5" y2="321.5" stroke="#161616" stroke-width="1.3"/>
<line x1="223.9" y1="328.3" x2="228.6" y2="322" stroke="#161616" stroke-width="1.3"/>
<line x1="228.1" y1="335.6" x2="237" y2="322.5" stroke="#161616" stroke-width="1.3"/>
<path d="M210.5,326.6 Q215.6,324.4 220,327.4 Q229,335 227.6,346 Q226,356 215,358.6" fill="#fff" stroke="#161616" stroke-width="1.4" stroke-linejoin="round" stroke-linecap="round"/>
<ellipse cx="207.2" cy="343.9" rx="14.1" ry="17" fill="#fff" stroke="#161616" stroke-width="1.5"/>
<ellipse cx="207.6" cy="345.6" rx="6.5" ry="7.3" fill="#fff" stroke="#161616" stroke-width="1.4"/>
<line x1="207.7" y1="327.2" x2="207.7" y2="373.3" stroke="#161616" stroke-width="1.2" stroke-dasharray="9,1.5,1.5,1.5"/>
<line x1="184.7" y1="344.5" x2="228.6" y2="348.2" stroke="#161616" stroke-width="1.2" stroke-dasharray="9,1.5,1.5,1.5"/>
<path d="M342.4,321.4 Q344.6,325 345.4,328.4" fill="none" stroke="#444" stroke-width="1.0" stroke-linejoin="round" stroke-linecap="round"/>
<line x1="347.5" y1="347.1" x2="339.1" y2="356.5" stroke="#161616" stroke-width="1.3"/>
<ellipse cx="323.1" cy="345.2" rx="19.4" ry="23.3" fill="#fff" stroke="#161616" stroke-width="1.5"/>
<ellipse cx="323.5" cy="343.5" rx="8.9" ry="10.5" fill="#fff" stroke="#161616" stroke-width="1.5"/>
<line x1="322.9" y1="318.8" x2="322.9" y2="374.3" stroke="#161616" stroke-width="1.2" stroke-dasharray="10,1.5,1.5,1.5"/>
<line x1="302.5" y1="342.9" x2="347.5" y2="347.1" stroke="#161616" stroke-width="1.2" stroke-dasharray="8,1.5,1.5,1.5"/>
<line x1="300" y1="221.8" x2="349.2" y2="281.5" stroke="#161616" stroke-width="1.3"/>
<line x1="368.6" y1="215" x2="357.6" y2="278" stroke="#161616" stroke-width="1.3"/>
<line x1="387" y1="308.7" x2="420" y2="313.4" stroke="#161616" stroke-width="1.2"/>
<line x1="349.2" y1="311.5" x2="349.6" y2="382" stroke="#161616" stroke-width="1.2"/>
</g>
</svg>
</body></html>
